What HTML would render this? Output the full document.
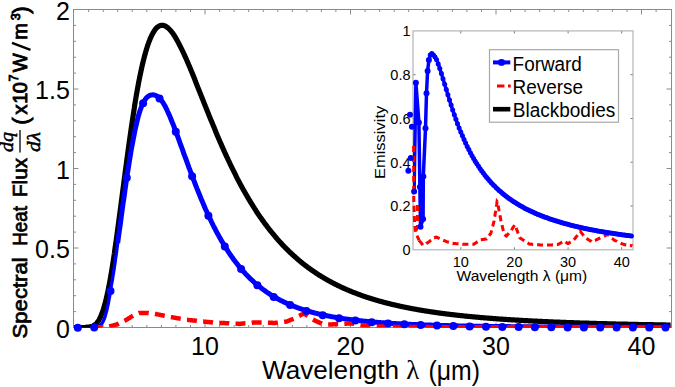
<!DOCTYPE html>
<html><head><meta charset="utf-8"><style>
html,body{margin:0;padding:0;background:#fff;}
body{width:675px;height:387px;position:relative;overflow:hidden;font-family:"Liberation Sans",sans-serif;}
</style></head><body>
<svg width="675" height="387" viewBox="0 0 675 387" style="position:absolute;left:0;top:0">
<defs><clipPath id="cm"><rect x="73.5" y="9.5" width="598" height="318"/></clipPath><clipPath id="ci"><rect x="413" y="30.9" width="220" height="218.9"/></clipPath></defs>
<path d="M88.6 327.5v-2.5M88.6 9.5v2.5M103.2 327.5v-2.5M103.2 9.5v2.5M117.7 327.5v-2.5M117.7 9.5v2.5M132.2 327.5v-2.5M132.2 9.5v2.5M146.8 327.5v-2.5M146.8 9.5v2.5M161.4 327.5v-2.5M161.4 9.5v2.5M175.9 327.5v-2.5M175.9 9.5v2.5M190.5 327.5v-2.5M190.5 9.5v2.5M205.0 327.5v-5.0M205.0 9.5v5.0M219.6 327.5v-2.5M219.6 9.5v2.5M234.1 327.5v-2.5M234.1 9.5v2.5M248.7 327.5v-2.5M248.7 9.5v2.5M263.2 327.5v-2.5M263.2 9.5v2.5M277.8 327.5v-2.5M277.8 9.5v2.5M292.3 327.5v-2.5M292.3 9.5v2.5M306.9 327.5v-2.5M306.9 9.5v2.5M321.4 327.5v-2.5M321.4 9.5v2.5M335.9 327.5v-2.5M335.9 9.5v2.5M350.5 327.5v-5.0M350.5 9.5v5.0M365.1 327.5v-2.5M365.1 9.5v2.5M379.6 327.5v-2.5M379.6 9.5v2.5M394.2 327.5v-2.5M394.2 9.5v2.5M408.7 327.5v-2.5M408.7 9.5v2.5M423.2 327.5v-2.5M423.2 9.5v2.5M437.8 327.5v-2.5M437.8 9.5v2.5M452.4 327.5v-2.5M452.4 9.5v2.5M466.9 327.5v-2.5M466.9 9.5v2.5M481.5 327.5v-2.5M481.5 9.5v2.5M496.0 327.5v-5.0M496.0 9.5v5.0M510.6 327.5v-2.5M510.6 9.5v2.5M525.1 327.5v-2.5M525.1 9.5v2.5M539.7 327.5v-2.5M539.7 9.5v2.5M554.2 327.5v-2.5M554.2 9.5v2.5M568.8 327.5v-2.5M568.8 9.5v2.5M583.3 327.5v-2.5M583.3 9.5v2.5M597.9 327.5v-2.5M597.9 9.5v2.5M612.4 327.5v-2.5M612.4 9.5v2.5M627.0 327.5v-2.5M627.0 9.5v2.5M641.5 327.5v-5.0M641.5 9.5v5.0M656.1 327.5v-2.5M656.1 9.5v2.5M73.5 311.6h2.5M671.5 311.6h-2.5M73.5 295.7h2.5M671.5 295.7h-2.5M73.5 279.8h2.5M671.5 279.8h-2.5M73.5 263.9h2.5M671.5 263.9h-2.5M73.5 248.0h5.0M671.5 248.0h-5.0M73.5 232.1h2.5M671.5 232.1h-2.5M73.5 216.2h2.5M671.5 216.2h-2.5M73.5 200.3h2.5M671.5 200.3h-2.5M73.5 184.4h2.5M671.5 184.4h-2.5M73.5 168.5h5.0M671.5 168.5h-5.0M73.5 152.6h2.5M671.5 152.6h-2.5M73.5 136.7h2.5M671.5 136.7h-2.5M73.5 120.8h2.5M671.5 120.8h-2.5M73.5 104.9h2.5M671.5 104.9h-2.5M73.5 89.0h5.0M671.5 89.0h-5.0M73.5 73.1h2.5M671.5 73.1h-2.5M73.5 57.2h2.5M671.5 57.2h-2.5M73.5 41.3h2.5M671.5 41.3h-2.5M73.5 25.4h2.5M671.5 25.4h-2.5" stroke="#8a8a8a" stroke-width="1" fill="none"/>
<rect x="73.5" y="9.5" width="598.0" height="318.0" fill="none" stroke="#8a8a8a" stroke-width="1"/>
<text x="69.8" y="337.7" font-family="Liberation Sans, sans-serif" font-size="25" text-anchor="end">0</text>
<text x="69.8" y="258.2" font-family="Liberation Sans, sans-serif" font-size="25" text-anchor="end">0.5</text>
<text x="69.8" y="178.7" font-family="Liberation Sans, sans-serif" font-size="25" text-anchor="end">1</text>
<text x="69.8" y="99.2" font-family="Liberation Sans, sans-serif" font-size="25" text-anchor="end">1.5</text>
<text x="69.8" y="19.7" font-family="Liberation Sans, sans-serif" font-size="25" text-anchor="end">2</text>
<text x="205.0" y="355" font-family="Liberation Sans, sans-serif" font-size="25" text-anchor="middle">10</text>
<text x="350.5" y="355" font-family="Liberation Sans, sans-serif" font-size="25" text-anchor="middle">20</text>
<text x="496.0" y="355" font-family="Liberation Sans, sans-serif" font-size="25" text-anchor="middle">30</text>
<text x="641.5" y="355" font-family="Liberation Sans, sans-serif" font-size="25" text-anchor="middle">40</text>
<g clip-path="url(#cm)">
<path d="M74.0 327.5L74.5 327.5L75.0 327.5L75.5 327.5L76.0 327.5L76.5 327.5L77.0 327.5L77.5 327.5L78.0 327.5L78.5 327.5L79.0 327.5L79.5 327.5L80.0 327.5L80.5 327.5L81.0 327.5L81.5 327.5L82.0 327.5L82.5 327.5L83.0 327.5L83.5 327.5L84.0 327.5L84.5 327.5L85.0 327.5L85.5 327.5L86.0 327.4L86.5 327.4L87.0 327.4L87.5 327.4L88.0 327.3L88.5 327.3L89.0 327.2L89.5 327.2L90.0 327.1L90.5 327.0L91.0 326.9L91.5 326.7L92.0 326.6L92.5 326.4L93.0 326.2L93.5 325.9L94.0 325.6L94.4 325.3L94.9 324.9L95.4 324.5L95.9 324.1L96.4 323.5L96.9 323.0L97.4 322.3L97.9 321.6L98.4 320.9L98.9 320.1L99.4 319.2L99.9 318.2L100.4 317.2L100.9 316.0L101.4 314.8L101.9 313.6L102.4 312.2L102.9 310.7L103.4 309.2L103.9 307.5L104.4 305.8L104.9 304.0L105.4 302.1L105.9 300.1L106.4 298.0L106.9 295.9L107.4 293.6L107.9 291.2L108.4 288.8L108.9 286.3L109.4 283.7L109.9 281.0L110.4 278.2L110.9 275.3L111.4 272.4L111.9 269.4L112.4 266.3L112.9 263.2L113.4 260.0L113.9 256.7L114.4 253.3L114.8 249.9L115.3 246.5L115.8 243.0L116.3 239.5L116.8 235.9L117.3 232.2L117.8 228.6L118.3 224.9L118.8 221.1L119.3 217.4L119.8 213.6L120.3 209.8L120.8 206.0L121.3 202.2L121.8 198.3L122.3 194.5L122.8 190.7L123.3 186.8L123.8 183.0L124.3 179.2L124.8 175.3L125.3 171.5L125.8 167.7L126.3 164.0L126.8 160.2L127.3 156.5L127.8 152.8L128.3 149.1L128.8 145.5L129.3 141.9L129.8 138.3L130.3 134.8L130.8 131.3L131.3 127.9L131.8 124.5L132.3 121.1L132.8 117.8L133.3 114.6L133.8 111.4L134.3 108.2L134.7 105.1L135.2 102.1L135.7 99.1L136.2 96.1L136.7 93.3L137.2 90.4L137.7 87.7L138.2 85.0L138.7 82.3L139.2 79.8L139.7 77.2L140.2 74.8L140.7 72.4L141.2 70.1L141.7 67.8L142.2 65.6L142.7 63.4L143.2 61.4L143.7 59.3L144.2 57.4L144.7 55.5L145.2 53.7L145.7 51.9L146.2 50.2L146.7 48.5L147.2 47.0L147.7 45.4L148.2 44.0L148.7 42.6L149.2 41.2L149.7 40.0L150.2 38.7L150.7 37.6L151.2 36.5L151.7 35.4L152.2 34.4L152.7 33.5L153.2 32.6L153.7 31.8L154.2 31.0L154.7 30.3L155.1 29.6L155.6 29.0L156.1 28.4L156.6 27.9L157.1 27.4L157.6 27.0L158.1 26.7L158.6 26.3L159.1 26.1L159.6 25.8L160.1 25.6L160.6 25.5L161.1 25.4L161.6 25.3L162.1 25.3L162.6 25.3L163.1 25.4L163.6 25.5L164.1 25.6L164.6 25.8L165.1 26.0L165.6 26.3L166.1 26.6L166.6 26.9L167.1 27.2L167.6 27.6L168.1 28.0L168.6 28.5L169.1 29.0L169.6 29.5L170.1 30.0L170.6 30.6L171.1 31.2L171.6 31.8L172.1 32.4L172.6 33.1L173.1 33.8L173.6 34.5L174.1 35.3L174.6 36.0L175.1 36.8L175.5 37.6L176.0 38.5L176.5 39.3L177.0 40.2L177.5 41.1L178.0 42.0L178.5 42.9L179.0 43.8L179.5 44.8L180.0 45.8L180.5 46.8L181.0 47.8L181.5 48.8L182.0 49.8L182.5 50.9L183.0 51.9L183.5 53.0L184.0 54.1L184.5 55.2L185.0 56.3L185.5 57.4L186.0 58.5L186.5 59.6L187.0 60.8L187.5 61.9L188.0 63.1L188.5 64.3L189.0 65.4L189.5 66.6L190.0 67.8L190.5 69.0L191.0 70.2L191.5 71.4L192.0 72.6L192.5 73.8L193.0 75.1L193.5 76.3L194.0 77.5L194.5 78.7L195.0 80.0L195.4 81.2L195.9 82.5L196.4 83.7L196.9 85.0L197.4 86.2L197.9 87.5L198.4 88.7L198.9 90.0L199.4 91.2L199.9 92.5L200.4 93.7L200.9 95.0L201.4 96.2L201.9 97.5L202.4 98.8L202.9 100.0L203.4 101.3L203.9 102.5L204.4 103.8L204.9 105.0L205.4 106.3L205.9 107.5L206.4 108.8L206.9 110.0L207.4 111.3L207.9 112.5L208.4 113.7L208.9 115.0L209.4 116.2L209.9 117.4L210.4 118.7L210.9 119.9L211.4 121.1L211.9 122.3L212.4 123.5L212.9 124.7L213.4 125.9L213.9 127.1L214.4 128.3L214.9 129.5L215.4 130.7L215.8 131.9L216.3 133.1L216.8 134.3L217.3 135.5L217.8 136.6L218.3 137.8L218.8 138.9L219.3 140.1L219.8 141.3L220.3 142.4L220.8 143.5L221.3 144.7L221.8 145.8L222.3 146.9L222.8 148.1L223.3 149.2L223.8 150.3L224.3 151.4L224.8 152.5L225.3 153.6L225.8 154.7L226.3 155.8L226.8 156.9L227.3 157.9L227.8 159.0L228.3 160.1L228.8 161.1L229.3 162.2L229.8 163.2L230.3 164.3L230.8 165.3L231.3 166.3L231.8 167.4L232.3 168.4L232.8 169.4L233.3 170.4L233.8 171.4L234.3 172.4L234.8 173.4L235.3 174.4L235.8 175.4L236.2 176.4L236.7 177.3L237.2 178.3L237.7 179.3L238.2 180.2L238.7 181.2L239.2 182.1L239.7 183.1L240.2 184.0L240.7 184.9L241.2 185.8L241.7 186.8L242.2 187.7L242.7 188.6L243.2 189.5L243.7 190.4L244.2 191.2L244.7 192.1L245.2 193.0L245.7 193.9L246.2 194.7L246.7 195.6L247.2 196.5L247.7 197.3L248.2 198.2L248.7 199.0L249.2 199.8L249.7 200.7L250.2 201.5L250.7 202.3L251.2 203.1L251.7 203.9L252.2 204.7L252.7 205.5L253.2 206.3L253.7 207.1L254.2 207.9L254.7 208.7L255.2 209.4L255.7 210.2L256.1 211.0L256.6 211.7L257.1 212.5L257.6 213.2L258.1 214.0L258.6 214.7L259.1 215.4L259.6 216.2L260.1 216.9L260.6 217.6L261.1 218.3L261.6 219.0L262.1 219.7L262.6 220.4L263.1 221.1L263.6 221.8L264.1 222.5L264.6 223.2L265.1 223.9L265.6 224.5L266.1 225.2L266.6 225.8L267.1 226.5L267.6 227.2L268.1 227.8L268.6 228.4L269.1 229.1L269.6 229.7L270.1 230.4L270.6 231.0L271.1 231.6L271.6 232.2L272.1 232.8L272.6 233.4L273.1 234.0L273.6 234.6L274.1 235.2L274.6 235.8L275.1 236.4L275.6 237.0L276.1 237.6L276.5 238.2L277.0 238.7L277.5 239.3L278.0 239.9L278.5 240.4L279.0 241.0L279.5 241.5L280.0 242.1L280.5 242.6L281.0 243.2L281.5 243.7L282.0 244.2L282.5 244.8L283.0 245.3L283.5 245.8L284.0 246.3L284.5 246.8L285.0 247.4L285.5 247.9L286.0 248.4L286.5 248.9L287.0 249.4L287.5 249.9L288.0 250.4L288.5 250.8L289.0 251.3L289.5 251.8L290.0 252.3L290.5 252.8L291.0 253.2L291.5 253.7L292.0 254.2L292.5 254.6L293.0 255.1L293.5 255.5L294.0 256.0L294.5 256.4L295.0 256.9L295.5 257.3L296.0 257.7L296.5 258.2L296.9 258.6L297.4 259.0L297.9 259.5L298.4 259.9L298.9 260.3L299.4 260.7L299.9 261.1L300.4 261.5L300.9 262.0L301.4 262.4L301.9 262.8L302.4 263.2L302.9 263.6L303.4 264.0L303.9 264.3L304.4 264.7L304.9 265.1L305.4 265.5L305.9 265.9L306.4 266.3L306.9 266.6L307.4 267.0L307.9 267.4L308.4 267.7L308.9 268.1L309.4 268.5L309.9 268.8L310.4 269.2L310.9 269.5L311.4 269.9L311.9 270.2L312.4 270.6L312.9 270.9L313.4 271.3L313.9 271.6L314.4 272.0L314.9 272.3L315.4 272.6L315.9 273.0L316.4 273.3L316.8 273.6L317.3 273.9L317.8 274.3L318.3 274.6L318.8 274.9L319.3 275.2L319.8 275.5L320.3 275.8L320.8 276.1L321.3 276.4L321.8 276.7L322.3 277.0L322.8 277.3L323.3 277.6L323.8 277.9L324.3 278.2L324.8 278.5L325.3 278.8L325.8 279.1L326.3 279.4L326.8 279.7L327.3 280.0L327.8 280.2L328.3 280.5L328.8 280.8L329.3 281.1L329.8 281.3L330.3 281.6L330.8 281.9L331.3 282.1L331.8 282.4L332.3 282.7L332.8 282.9L333.3 283.2L333.8 283.5L334.3 283.7L334.8 284.0L335.3 284.2L335.8 284.5L336.3 284.7L336.8 285.0L337.2 285.2L337.7 285.5L338.2 285.7L338.7 285.9L339.2 286.2L339.7 286.4L340.2 286.6L340.7 286.9L341.2 287.1L341.7 287.3L342.2 287.6L342.7 287.8L343.2 288.0L343.7 288.3L344.2 288.5L344.7 288.7L345.2 288.9L345.7 289.1L346.2 289.4L346.7 289.6L347.2 289.8L347.7 290.0L348.2 290.2L348.7 290.4L349.2 290.6L349.7 290.8L350.2 291.0L350.7 291.3L351.2 291.5L351.7 291.7L352.2 291.9L352.7 292.1L353.2 292.3L353.7 292.5L354.2 292.7L354.7 292.8L355.2 293.0L355.7 293.2L356.2 293.4L356.7 293.6L357.2 293.8L357.6 294.0L358.1 294.2L358.6 294.4L359.1 294.5L359.6 294.7L360.1 294.9L360.6 295.1L361.1 295.3L361.6 295.4L362.1 295.6L362.6 295.8L363.1 296.0L363.6 296.1L364.1 296.3L364.6 296.5L365.1 296.6L365.6 296.8L366.1 297.0L366.6 297.1L367.1 297.3L367.6 297.5L368.1 297.6L368.6 297.8L369.1 298.0L369.6 298.1L370.1 298.3L370.6 298.4L371.1 298.6L371.6 298.7L372.1 298.9L372.6 299.1L373.1 299.2L373.6 299.4L374.1 299.5L374.6 299.7L375.1 299.8L375.6 300.0L376.1 300.1L376.6 300.2L377.1 300.4L377.5 300.5L378.0 300.7L378.5 300.8L379.0 301.0L379.5 301.1L380.0 301.2L380.5 301.4L381.0 301.5L381.5 301.7L382.0 301.8L382.5 301.9L383.0 302.1L383.5 302.2L384.0 302.3L384.5 302.5L385.0 302.6L385.5 302.7L386.0 302.9L386.5 303.0L387.0 303.1L387.5 303.2L388.0 303.4L388.5 303.5L389.0 303.6L389.5 303.7L390.0 303.9L390.5 304.0L391.0 304.1L391.5 304.2L392.0 304.3L392.5 304.5L393.0 304.6L393.5 304.7L394.0 304.8L394.5 304.9L395.0 305.0L395.5 305.2L396.0 305.3L396.5 305.4L397.0 305.5L397.5 305.6L397.9 305.7L398.4 305.8L398.9 305.9L399.4 306.1L399.9 306.2L400.4 306.3L400.9 306.4L401.4 306.5L401.9 306.6L402.4 306.7L402.9 306.8L403.4 306.9L403.9 307.0L404.4 307.1L404.9 307.2L405.4 307.3L405.9 307.4L406.4 307.5L406.9 307.6L407.4 307.7L407.9 307.8L408.4 307.9L408.9 308.0L409.4 308.1L409.9 308.2L410.4 308.3L410.9 308.4L411.4 308.5L411.9 308.6L412.4 308.7L412.9 308.8L413.4 308.9L413.9 309.0L414.4 309.0L414.9 309.1L415.4 309.2L415.9 309.3L416.4 309.4L416.9 309.5L417.4 309.6L417.8 309.7L418.3 309.8L418.8 309.8L419.3 309.9L419.8 310.0L420.3 310.1L420.8 310.2L421.3 310.3L421.8 310.4L422.3 310.4L422.8 310.5L423.3 310.6L423.8 310.7L424.3 310.8L424.8 310.8L425.3 310.9L425.8 311.0L426.3 311.1L426.8 311.2L427.3 311.2L427.8 311.3L428.3 311.4L428.8 311.5L429.3 311.5L429.8 311.6L430.3 311.7L430.8 311.8L431.3 311.8L431.8 311.9L432.3 312.0L432.8 312.1L433.3 312.1L433.8 312.2L434.3 312.3L434.8 312.4L435.3 312.4L435.8 312.5L436.3 312.6L436.8 312.6L437.3 312.7L437.8 312.8L438.2 312.9L438.7 312.9L439.2 313.0L439.7 313.1L440.2 313.1L440.7 313.2L441.2 313.3L441.7 313.3L442.2 313.4L442.7 313.5L443.2 313.5L443.7 313.6L444.2 313.6L444.7 313.7L445.2 313.8L445.7 313.8L446.2 313.9L446.7 314.0L447.2 314.0L447.7 314.1L448.2 314.2L448.7 314.2L449.2 314.3L449.7 314.3L450.2 314.4L450.7 314.5L451.2 314.5L451.7 314.6L452.2 314.6L452.7 314.7L453.2 314.7L453.7 314.8L454.2 314.9L454.7 314.9L455.2 315.0L455.7 315.0L456.2 315.1L456.7 315.1L457.2 315.2L457.7 315.3L458.2 315.3L458.6 315.4L459.1 315.4L459.6 315.5L460.1 315.5L460.6 315.6L461.1 315.6L461.6 315.7L462.1 315.7L462.6 315.8L463.1 315.8L463.6 315.9L464.1 316.0L464.6 316.0L465.1 316.1L465.6 316.1L466.1 316.2L466.6 316.2L467.1 316.3L467.6 316.3L468.1 316.4L468.6 316.4L469.1 316.5L469.6 316.5L470.1 316.5L470.6 316.6L471.1 316.6L471.6 316.7L472.1 316.7L472.6 316.8L473.1 316.8L473.6 316.9L474.1 316.9L474.6 317.0L475.1 317.0L475.6 317.1L476.1 317.1L476.6 317.2L477.1 317.2L477.6 317.2L478.1 317.3L478.5 317.3L479.0 317.4L479.5 317.4L480.0 317.5L480.5 317.5L481.0 317.6L481.5 317.6L482.0 317.6L482.5 317.7L483.0 317.7L483.5 317.8L484.0 317.8L484.5 317.8L485.0 317.9L485.5 317.9L486.0 318.0L486.5 318.0L487.0 318.0L487.5 318.1L488.0 318.1L488.5 318.2L489.0 318.2L489.5 318.2L490.0 318.3L490.5 318.3L491.0 318.4L491.5 318.4L492.0 318.4L492.5 318.5L493.0 318.5L493.5 318.6L494.0 318.6L494.5 318.6L495.0 318.7L495.5 318.7L496.0 318.7L496.5 318.8L497.0 318.8L497.5 318.9L498.0 318.9L498.5 318.9L498.9 319.0L499.4 319.0L499.9 319.0L500.4 319.1L500.9 319.1L501.4 319.1L501.9 319.2L502.4 319.2L502.9 319.2L503.4 319.3L503.9 319.3L504.4 319.3L504.9 319.4L505.4 319.4L505.9 319.4L506.4 319.5L506.9 319.5L507.4 319.5L507.9 319.6L508.4 319.6L508.9 319.6L509.4 319.7L509.9 319.7L510.4 319.7L510.9 319.8L511.4 319.8L511.9 319.8L512.4 319.9L512.9 319.9L513.4 319.9L513.9 319.9L514.4 320.0L514.9 320.0L515.4 320.0L515.9 320.1L516.4 320.1L516.9 320.1L517.4 320.2L517.9 320.2L518.4 320.2L518.9 320.2L519.3 320.3L519.8 320.3L520.3 320.3L520.8 320.4L521.3 320.4L521.8 320.4L522.3 320.4L522.8 320.5L523.3 320.5L523.8 320.5L524.3 320.6L524.8 320.6L525.3 320.6L525.8 320.6L526.3 320.7L526.8 320.7L527.3 320.7L527.8 320.7L528.3 320.8L528.8 320.8L529.3 320.8L529.8 320.9L530.3 320.9L530.8 320.9L531.3 320.9L531.8 321.0L532.3 321.0L532.8 321.0L533.3 321.0L533.8 321.1L534.3 321.1L534.8 321.1L535.3 321.1L535.8 321.2L536.3 321.2L536.8 321.2L537.3 321.2L537.8 321.3L538.3 321.3L538.8 321.3L539.2 321.3L539.7 321.4L540.2 321.4L540.7 321.4L541.2 321.4L541.7 321.4L542.2 321.5L542.7 321.5L543.2 321.5L543.7 321.5L544.2 321.6L544.7 321.6L545.2 321.6L545.7 321.6L546.2 321.7L546.7 321.7L547.2 321.7L547.7 321.7L548.2 321.7L548.7 321.8L549.2 321.8L549.7 321.8L550.2 321.8L550.7 321.8L551.2 321.9L551.7 321.9L552.2 321.9L552.7 321.9L553.2 322.0L553.7 322.0L554.2 322.0L554.7 322.0L555.2 322.0L555.7 322.1L556.2 322.1L556.7 322.1L557.2 322.1L557.7 322.1L558.2 322.2L558.7 322.2L559.2 322.2L559.6 322.2L560.1 322.2L560.6 322.3L561.1 322.3L561.6 322.3L562.1 322.3L562.6 322.3L563.1 322.4L563.6 322.4L564.1 322.4L564.6 322.4L565.1 322.4L565.6 322.4L566.1 322.5L566.6 322.5L567.1 322.5L567.6 322.5L568.1 322.5L568.6 322.6L569.1 322.6L569.6 322.6L570.1 322.6L570.6 322.6L571.1 322.6L571.6 322.7L572.1 322.7L572.6 322.7L573.1 322.7L573.6 322.7L574.1 322.8L574.6 322.8L575.1 322.8L575.6 322.8L576.1 322.8L576.6 322.8L577.1 322.9L577.6 322.9L578.1 322.9L578.6 322.9L579.1 322.9L579.6 322.9L580.0 323.0L580.5 323.0L581.0 323.0L581.5 323.0L582.0 323.0L582.5 323.0L583.0 323.1L583.5 323.1L584.0 323.1L584.5 323.1L585.0 323.1L585.5 323.1L586.0 323.1L586.5 323.2L587.0 323.2L587.5 323.2L588.0 323.2L588.5 323.2L589.0 323.2L589.5 323.3L590.0 323.3L590.5 323.3L591.0 323.3L591.5 323.3L592.0 323.3L592.5 323.3L593.0 323.4L593.5 323.4L594.0 323.4L594.5 323.4L595.0 323.4L595.5 323.4L596.0 323.4L596.5 323.5L597.0 323.5L597.5 323.5L598.0 323.5L598.5 323.5L599.0 323.5L599.5 323.5L599.9 323.6L600.4 323.6L600.9 323.6L601.4 323.6L601.9 323.6L602.4 323.6L602.9 323.6L603.4 323.7L603.9 323.7L604.4 323.7L604.9 323.7L605.4 323.7L605.9 323.7L606.4 323.7L606.9 323.7L607.4 323.8L607.9 323.8L608.4 323.8L608.9 323.8L609.4 323.8L609.9 323.8L610.4 323.8L610.9 323.8L611.4 323.9L611.9 323.9L612.4 323.9L612.9 323.9L613.4 323.9L613.9 323.9L614.4 323.9L614.9 323.9L615.4 324.0L615.9 324.0L616.4 324.0L616.9 324.0L617.4 324.0L617.9 324.0L618.4 324.0L618.9 324.0L619.4 324.0L619.9 324.1L620.3 324.1L620.8 324.1L621.3 324.1L621.8 324.1L622.3 324.1L622.8 324.1L623.3 324.1L623.8 324.2L624.3 324.2L624.8 324.2L625.3 324.2L625.8 324.2L626.3 324.2L626.8 324.2L627.3 324.2L627.8 324.2L628.3 324.3L628.8 324.3L629.3 324.3L629.8 324.3L630.3 324.3L630.8 324.3L631.3 324.3L631.8 324.3L632.3 324.3L632.8 324.3L633.3 324.4L633.8 324.4L634.3 324.4L634.8 324.4L635.3 324.4L635.8 324.4L636.3 324.4L636.8 324.4L637.3 324.4L637.8 324.4L638.3 324.5L638.8 324.5L639.3 324.5L639.8 324.5L640.3 324.5L640.7 324.5L641.2 324.5L641.7 324.5L642.2 324.5L642.7 324.5L643.2 324.6L643.7 324.6L644.2 324.6L644.7 324.6L645.2 324.6L645.7 324.6L646.2 324.6L646.7 324.6L647.2 324.6L647.7 324.6L648.2 324.7L648.7 324.7L649.2 324.7L649.7 324.7L650.2 324.7L650.7 324.7L651.2 324.7L651.7 324.7L652.2 324.7L652.7 324.7L653.2 324.7L653.7 324.8L654.2 324.8L654.7 324.8L655.2 324.8L655.7 324.8L656.2 324.8L656.7 324.8L657.2 324.8L657.7 324.8L658.2 324.8L658.7 324.8L659.2 324.8L659.7 324.9L660.2 324.9L660.6 324.9L661.1 324.9L661.6 324.9L662.1 324.9L662.6 324.9L663.1 324.9L663.6 324.9L664.1 324.9L664.6 324.9L665.1 324.9L665.6 325.0L666.1 325.0L666.6 325.0L667.1 325.0L667.6 325.0L668.1 325.0L668.6 325.0L669.1 325.0L669.6 325.0L670.1 325.0L670.6 325.0" stroke="#000" stroke-width="5.2" fill="none" stroke-linejoin="round"/>
<path d="M117.7 242.9L118.3 238.3L118.9 234.0L119.5 229.5L120.2 225.1L120.8 220.5L121.4 215.9L122.0 211.3L122.6 206.9L123.2 202.5L123.9 198.2L124.5 193.8L125.1 189.5L125.7 185.1L126.3 180.8L126.9 176.6L127.5 172.7L128.2 168.8L128.8 164.9L129.4 161.2L130.0 157.4L130.6 153.8L131.2 150.2L131.8 146.7L132.5 143.3L133.1 140.0L133.7 136.9L134.3 133.8L134.9 130.8L135.5 127.9L136.2 125.2L136.8 122.5L137.4 119.9L138.0 117.5L138.6 115.2L139.2 113.2L139.8 111.2L140.5 109.4L141.1 107.7L141.7 106.1L142.3 104.7L142.9 103.4L143.5 102.2L144.1 101.1L144.8 100.1L145.4 99.2L146.0 98.4L146.6 97.7L147.2 97.1L147.8 96.6L148.5 96.2L149.1 95.8L149.7 95.5L150.3 95.2L150.9 95.1L151.5 94.9L152.1 94.9L152.8 94.8L153.4 94.9L154.0 95.0L154.6 95.1L155.2 95.3L155.8 95.5L156.4 95.8L157.1 96.2L157.7 96.6L158.3 97.1L158.9 97.6L159.5 98.2L160.1 98.8L160.8 99.6L161.4 100.3L162.0 101.2L162.6 102.1L163.2 103.0L163.8 104.0L164.4 105.1L165.1 106.2L165.7 107.4L166.3 108.6L166.9 109.8L167.5 111.2L168.1 112.5L168.7 113.9L169.4 115.3L170.0 116.7L170.6 118.2L171.2 119.7L171.8 121.2L172.4 122.7L173.1 124.3L173.7 125.9L174.3 127.5L174.9 129.1L175.5 130.7L176.1 132.4L176.7 134.0L177.4 135.7L178.0 137.4L178.6 139.0L179.2 140.7L179.8 142.4L180.4 144.1L181.0 145.8L181.7 147.5L182.3 149.2L182.9 150.9L183.5 152.6L184.1 154.3L184.7 156.0L185.4 157.7L186.0 159.4L186.6 161.0L187.2 162.7L187.8 164.4L188.4 166.1L189.0 167.7L189.7 169.4L190.3 171.1L190.9 172.7L191.5 174.3L192.1 176.0L192.7 177.6L193.3 179.2L194.0 180.8L194.6 182.4L195.2 184.0L195.8 185.6L196.4 187.1L197.0 188.7L197.7 190.2L198.3 191.8L198.9 193.3L199.5 194.8L200.1 196.3L200.7 197.8L201.3 199.3L202.0 200.7L202.6 202.2L203.2 203.6L203.8 205.1L204.4 206.5L205.0 207.9L205.6 209.3L206.3 210.7L206.9 212.0L207.5 213.4L208.1 214.7L208.7 216.0L209.3 217.4L210.0 218.7L210.6 219.9L211.2 221.2L211.8 222.5L212.4 223.7L213.0 225.0L213.6 226.2L214.3 227.4L214.9 228.6L215.5 229.8L216.1 231.0L216.7 232.1L217.3 233.3L217.9 234.4L218.6 235.5L219.2 236.6L219.8 237.7L220.4 238.8L221.0 239.9L221.6 241.0L222.3 242.0L222.9 243.0L223.5 244.1L224.1 245.1L224.7 246.1L225.3 247.1L225.9 248.1L226.6 249.0L227.2 250.0L227.8 250.9L228.4 251.9L229.0 252.8L229.6 253.7L230.2 254.6L230.9 255.5L231.5 256.4L232.1 257.2L232.7 258.1L233.3 258.9L233.9 259.8L234.6 260.6L235.2 261.4L235.8 262.2L236.4 263.0L237.0 263.8L237.6 264.6L238.2 265.4L238.9 266.1L239.5 266.9L240.1 267.6L240.7 268.3L241.3 269.1L241.9 269.8L242.5 270.5L243.2 271.2L243.8 271.9L244.4 272.5L245.0 273.2L245.6 273.9L246.2 274.5L246.9 275.2L247.5 275.8L248.1 276.4L248.7 277.0L249.3 277.7L249.9 278.3L250.5 278.9L251.2 279.4L251.8 280.0L252.4 280.6L253.0 281.2L253.6 281.7L254.2 282.3L254.8 282.8L255.5 283.4L256.1 283.9L256.7 284.4L257.3 284.9L257.9 285.4L258.5 285.9L259.2 286.4L259.8 286.9L260.4 287.4L261.0 287.9L261.6 288.4L262.2 288.8L262.8 289.3L263.5 289.8L264.1 290.2L264.7 290.7L265.3 291.1L265.9 291.5L266.5 292.0L267.1 292.4L267.8 292.8L268.4 293.2L269.0 293.6L269.6 294.0L270.2 294.4L270.8 294.8L271.5 295.2L272.1 295.6L272.7 295.9L273.3 296.3L273.9 296.7L274.5 297.0L275.1 297.4L275.8 297.7L276.4 298.1L277.0 298.4L277.6 298.8L278.2 299.1L278.8 299.4L279.4 299.8L280.1 300.1L280.7 300.4L281.3 300.7L281.9 301.0L282.5 301.3L283.1 301.6L283.8 301.9L284.4 302.2L285.0 302.5L285.6 302.8L286.2 303.1L286.8 303.4L287.4 303.6L288.1 303.9L288.7 304.2L289.3 304.4L289.9 304.7L290.5 305.0L291.1 305.2L291.7 305.5L292.4 305.7L293.0 306.0L293.6 306.2L294.2 306.4L294.8 306.7L295.4 306.9L296.1 307.2L296.7 307.4L297.3 307.6L297.9 307.8L298.5 308.0L299.1 308.3L299.7 308.5L300.4 308.7L301.0 308.9L301.6 309.1L302.2 309.3L302.8 309.5L303.4 309.7L304.1 309.9L304.7 310.1L305.3 310.3L305.9 310.5L306.5 310.7L307.1 310.9L307.7 311.0L308.4 311.2L309.0 311.4L309.6 311.6L310.2 311.7L310.8 311.9L311.4 312.1L312.0 312.3L312.7 312.4L313.3 312.6L313.9 312.7L314.5 312.9L315.1 313.1L315.7 313.2L316.4 313.4L317.0 313.5L317.6 313.7L318.2 313.8L318.8 314.0L319.4 314.1L320.0 314.3L320.7 314.4L321.3 314.5L321.9 314.7L322.5 314.8L323.1 315.0L323.7 315.1L324.3 315.2L325.0 315.3L325.6 315.5L326.2 315.6L326.8 315.7L327.4 315.8L328.0 316.0L328.7 316.1L329.3 316.2L329.9 316.3L330.5 316.4L331.1 316.6L331.7 316.7L332.3 316.8L333.0 316.9L333.6 317.0L334.2 317.1L334.8 317.2L335.4 317.3L336.0 317.4L336.6 317.5L337.3 317.6L337.9 317.7L338.5 317.8L339.1 317.9L339.7 318.0L340.3 318.1L341.0 318.2L341.6 318.3L342.2 318.4L342.8 318.5L343.4 318.6L344.0 318.7L344.6 318.8L345.3 318.9L345.9 319.0L346.5 319.0L347.1 319.1L347.7 319.2L348.3 319.3L348.9 319.4L349.6 319.5L350.2 319.5L350.8 319.6L351.4 319.7L352.0 319.8L352.6 319.9L353.3 319.9L353.9 320.0L354.5 320.1L355.1 320.2L355.7 320.2L356.3 320.3L356.9 320.4L357.6 320.4L358.2 320.5L358.8 320.6L359.4 320.6L360.0 320.7L360.6 320.8L361.2 320.8L361.9 320.9L362.5 321.0L363.1 321.0L363.7 321.1L364.3 321.2L364.9 321.2L365.6 321.3L366.2 321.3L366.8 321.4L367.4 321.5L368.0 321.5L368.6 321.6L369.2 321.6L369.9 321.7L370.5 321.7L371.1 321.8L371.7 321.9L372.3 321.9L372.9 322.0L373.5 322.0L374.2 322.1L374.8 322.1L375.4 322.2L376.0 322.2L376.6 322.3L377.2 322.3L377.9 322.4L378.5 322.4L379.1 322.5L379.7 322.5L380.3 322.6L380.9 322.6L381.5 322.7L382.2 322.7L382.8 322.7L383.4 322.8L384.0 322.8L384.6 322.9L385.2 322.9L385.8 323.0L386.5 323.0L387.1 323.0L387.7 323.1L388.3 323.1L388.9 323.2L389.5 323.2L390.2 323.2L390.8 323.3L391.4 323.3L392.0 323.4L392.6 323.4L393.2 323.4L393.8 323.5L394.5 323.5L395.1 323.5L395.7 323.6L396.3 323.6L396.9 323.7L397.5 323.7L398.1 323.7L398.8 323.8L399.4 323.8L400.0 323.8L400.6 323.9L401.2 323.9L401.8 323.9L402.5 324.0L403.1 324.0L403.7 324.0L404.3 324.0L404.9 324.1L405.5 324.1L406.1 324.1L406.8 324.2L407.4 324.2L408.0 324.2L408.6 324.3L409.2 324.3L409.8 324.3L410.4 324.3L411.1 324.4L411.7 324.4L412.3 324.4L412.9 324.5L413.5 324.5L414.1 324.5L414.8 324.5L415.4 324.6L416.0 324.6L416.6 324.6L417.2 324.6L417.8 324.7L418.4 324.7L419.1 324.7L419.7 324.7L420.3 324.8L420.9 324.8L421.5 324.8L422.1 324.8L422.7 324.8L423.4 324.9L424.0 324.9L424.6 324.9L425.2 324.9L425.8 325.0L426.4 325.0L427.1 325.0L427.7 325.0L428.3 325.0L428.9 325.1L429.5 325.1L430.1 325.1L430.7 325.1L431.4 325.1L432.0 325.2L432.6 325.2L433.2 325.2L433.8 325.2L434.4 325.2L435.0 325.3L435.7 325.3L436.3 325.3L436.9 325.3L437.5 325.3L438.1 325.4L438.7 325.4L439.4 325.4L440.0 325.4L440.6 325.4L441.2 325.4L441.8 325.5L442.4 325.5L443.0 325.5L443.7 325.5L444.3 325.5L444.9 325.5L445.5 325.6L446.1 325.6L446.7 325.6L447.3 325.6L448.0 325.6L448.6 325.6L449.2 325.7L449.8 325.7L450.4 325.7L451.0 325.7L451.7 325.7L452.3 325.7L452.9 325.7L453.5 325.8L454.1 325.8L454.7 325.8L455.3 325.8L456.0 325.8L456.6 325.8L457.2 325.8L457.8 325.9L458.4 325.9L459.0 325.9L459.6 325.9L460.3 325.9L460.9 325.9L461.5 325.9L462.1 325.9L462.7 326.0L463.3 326.0L464.0 326.0L464.6 326.0L465.2 326.0L465.8 326.0L466.4 326.0L467.0 326.0L467.6 326.0L468.3 326.1L468.9 326.1L469.5 326.1L470.1 326.1L470.7 326.1L471.3 326.1L471.9 326.1L472.6 326.1L473.2 326.1L473.8 326.2L474.4 326.2L475.0 326.2L475.6 326.2L476.3 326.2L476.9 326.2L477.5 326.2L478.1 326.2L478.7 326.2L479.3 326.3L479.9 326.3L480.6 326.3L481.2 326.3L481.8 326.3L482.4 326.3L483.0 326.3L483.6 326.3L484.2 326.3L484.9 326.3L485.5 326.3L486.1 326.4L486.7 326.4L487.3 326.4L487.9 326.4L488.6 326.4L489.2 326.4L489.8 326.4L490.4 326.4L491.0 326.4L491.6 326.4L492.2 326.4L492.9 326.4L493.5 326.5L494.1 326.5L494.7 326.5L495.3 326.5L495.9 326.5L496.6 326.5L497.2 326.5L497.8 326.5L498.4 326.5L499.0 326.5L499.6 326.5L500.2 326.5L500.9 326.5L501.5 326.6L502.1 326.6L502.7 326.6L503.3 326.6L503.9 326.6L504.5 326.6L505.2 326.6L505.8 326.6L506.4 326.6L507.0 326.6L507.6 326.6L508.2 326.6L508.9 326.6L509.5 326.6L510.1 326.6L510.7 326.7L511.3 326.7L511.9 326.7L512.5 326.7L513.2 326.7L513.8 326.7L514.4 326.7L515.0 326.7L515.6 326.7L516.2 326.7L516.8 326.7L517.5 326.7L518.1 326.7L518.7 326.7L519.3 326.7L519.9 326.7L520.5 326.7L521.2 326.7L521.8 326.8L522.4 326.8L523.0 326.8L523.6 326.8L524.2 326.8L524.8 326.8L525.5 326.8L526.1 326.8L526.7 326.8L527.3 326.8L527.9 326.8L528.5 326.8L529.1 326.8L529.8 326.8L530.4 326.8L531.0 326.8L531.6 326.8L532.2 326.8L532.8 326.8L533.5 326.8L534.1 326.9L534.7 326.9L535.3 326.9L535.9 326.9L536.5 326.9L537.1 326.9L537.8 326.9L538.4 326.9L539.0 326.9L539.6 326.9L540.2 326.9L540.8 326.9L541.4 326.9L542.1 326.9L542.7 326.9L543.3 326.9L543.9 326.9L544.5 326.9L545.1 326.9L545.8 326.9L546.4 326.9L547.0 326.9L547.6 326.9L548.2 327.0L548.8 327.0L549.4 327.0L550.1 327.0L550.7 327.0L551.3 327.0L551.9 327.0L552.5 327.0L553.1 327.0L553.7 327.0L554.4 327.0L555.0 327.0L555.6 327.0L556.2 327.0L556.8 327.0L557.4 327.0L558.1 327.0L558.7 327.0L559.3 327.0L559.9 327.0L560.5 327.0L561.1 327.0L561.7 327.0L562.4 327.0L563.0 327.0L563.6 327.0L564.2 327.0L564.8 327.0L565.4 327.0L566.0 327.0L566.7 327.1L567.3 327.1L567.9 327.1L568.5 327.1L569.1 327.1L569.7 327.1L570.4 327.1L571.0 327.1L571.6 327.1L572.2 327.1L572.8 327.1L573.4 327.1L574.0 327.1L574.7 327.1L575.3 327.1L575.9 327.1L576.5 327.1L577.1 327.1L577.7 327.1L578.3 327.1L579.0 327.1L579.6 327.1L580.2 327.1L580.8 327.1L581.4 327.1L582.0 327.1L582.7 327.1L583.3 327.1L583.9 327.1L584.5 327.1L585.1 327.1L585.7 327.1L586.3 327.1L587.0 327.1L587.6 327.1L588.2 327.1L588.8 327.1L589.4 327.1L590.0 327.2L590.6 327.2L591.3 327.2L591.9 327.2L592.5 327.2L593.1 327.2L593.7 327.2L594.3 327.2L595.0 327.2L595.6 327.2L596.2 327.2L596.8 327.2L597.4 327.2L598.0 327.2L598.6 327.2L599.3 327.2L599.9 327.2L600.5 327.2L601.1 327.2L601.7 327.2L602.3 327.2L602.9 327.2L603.6 327.2L604.2 327.2L604.8 327.2L605.4 327.2L606.0 327.2L606.6 327.2L607.3 327.2L607.9 327.2L608.5 327.2L609.1 327.2L609.7 327.2L610.3 327.2L610.9 327.2L611.6 327.2L612.2 327.2L612.8 327.2L613.4 327.2L614.0 327.2L614.6 327.2L615.2 327.2L615.9 327.2L616.5 327.2L617.1 327.2L617.7 327.2L618.3 327.2L618.9 327.2L619.6 327.2L620.2 327.2L620.8 327.2L621.4 327.2L622.0 327.3L622.6 327.3L623.2 327.3L623.9 327.3L624.5 327.3L625.1 327.3L625.7 327.3L626.3 327.3L626.9 327.3L627.5 327.3L628.2 327.3L628.8 327.3L629.4 327.3L630.0 327.3L630.6 327.3L631.2 327.3L631.9 327.3L632.5 327.3L633.1 327.3L633.7 327.3L634.3 327.3L634.9 327.3L635.5 327.3L636.2 327.3L636.8 327.3L637.4 327.3L638.0 327.3L638.6 327.3L639.2 327.3L639.8 327.3L640.5 327.3L641.1 327.3L641.7 327.3L642.3 327.3L642.9 327.3L643.5 327.3L644.2 327.3L644.8 327.3L645.4 327.3L646.0 327.3L646.6 327.3L647.2 327.3L647.8 327.3L648.5 327.3L649.1 327.3L649.7 327.3L650.3 327.3L650.9 327.3L651.5 327.3L652.1 327.3L652.8 327.3L653.4 327.3L654.0 327.3L654.6 327.3L655.2 327.3L655.8 327.3L656.5 327.3L657.1 327.3L657.7 327.3L658.3 327.3L658.9 327.3L659.5 327.3L660.1 327.3L660.8 327.3L661.4 327.3L662.0 327.3L662.6 327.3L663.2 327.3L663.8 327.3L664.4 327.3L665.1 327.3L665.7 327.3L666.3 327.3L666.9 327.3L667.5 327.3L668.1 327.3L668.8 327.3L669.4 327.3L670.0 327.3L670.6 327.3" stroke="#0000ff" stroke-width="5" fill="none" stroke-linejoin="round"/>
<path d="M74.0 327.5L74.4 327.5L74.8 327.5L75.2 327.5L75.5 327.5L75.9 327.5L76.3 327.5L76.7 327.5L77.0 327.5L77.4 327.5L77.8 327.5L78.2 327.5L78.5 327.5L78.9 327.5L79.3 327.5L79.6 327.5L80.0 327.5L80.4 327.5L80.8 327.5L81.1 327.5L81.5 327.5L81.9 327.5L82.3 327.5L82.6 327.5L83.0 327.5L83.4 327.5L83.7 327.5L84.1 327.5L84.5 327.5L84.9 327.5L85.2 327.5L85.6 327.5L86.0 327.5L86.4 327.5L86.7 327.4L87.1 327.4L87.5 327.4L87.8 327.4L88.2 327.4L88.6 327.4L89.0 327.3L89.3 327.3L89.7 327.3L90.1 327.2L90.5 327.2L90.8 327.2L91.2 327.1L91.6 327.1L92.0 327.1L92.3 327.1L92.7 327.1L93.1 327.1L93.4 327.1L93.8 327.1L94.2 327.1L94.6 327.2L94.9 327.2L95.3 327.2L95.7 327.2L96.1 327.1L96.4 327.0L96.8 327.0L97.2 326.9L97.5 326.8L97.9 326.8L98.3 326.7L98.7 326.6L99.0 326.4L99.4 326.3L99.8 326.0L100.2 325.6L100.5 325.3L100.9 324.8L101.3 324.4L101.6 323.9L102.0 323.3L102.4 322.7L102.8 322.0L103.1 321.3L103.5 320.5L103.9 319.6L104.3 318.7L104.6 317.7L105.0 316.6L105.4 315.4L105.7 314.1L106.1 312.8L106.5 311.4L106.9 309.9L107.2 308.3L107.6 306.6L108.0 304.9L108.4 303.0L108.7 301.0L109.1 299.0L109.5 296.9L109.9 294.7L110.2 292.4L110.6 290.0L111.0 287.5L111.3 285.4L111.7 283.4L112.1 281.2L112.5 279.1L112.8 276.8L113.2 274.5L113.6 272.2L114.0 269.7L114.3 267.3L114.7 264.8L115.1 262.2L115.4 259.6L115.8 257.0L116.2 254.3L116.6 251.6L116.9 248.8L117.3 245.9L117.7 243.0L118.1 240.2L118.4 237.6" stroke="#0000ff" stroke-width="3.4" fill="none" stroke-linejoin="round"/>
<path d="M74.0 327.5L74.8 327.5L75.5 327.5L76.2 327.5L77.0 327.5L77.7 327.5L78.4 327.5L79.1 327.5L79.9 327.5L80.6 327.5L81.3 327.5L82.1 327.5L82.8 327.5L83.5 327.5L84.2 327.5L85.0 327.5L85.7 327.5L86.4 327.4L87.1 327.4L87.9 327.3L88.6 327.3L89.3 327.2L90.1 327.1L90.8 326.9L91.5 326.7L92.2 326.5L93.0 326.2L93.7 325.8L94.4 325.3L95.1 324.8" stroke="#000" stroke-width="5.2" fill="none"/>
<path d="M93.0 327.4L93.5 327.4L94.1 327.4L94.7 327.4L95.3 327.4L95.9 327.4L96.4 327.4L97.0 327.3L97.6 327.3L98.2 327.3L98.7 327.3L99.3 327.3L99.9 327.3L100.5 327.2L101.1 327.2L101.6 327.2L102.2 327.2L102.8 327.2L103.4 327.1L104.0 327.1L104.5 327.0L105.1 327.0L105.7 326.9L106.3 326.8L106.8 326.8L107.4 326.7L108.0 326.6L108.6 326.5L109.2 326.4L109.7 326.3L110.3 326.2L110.9 326.0L111.5 325.9L112.0 325.8L112.6 325.6L113.2 325.5L113.8 325.3L114.4 325.2L114.9 325.0L115.5 324.8L116.1 324.6L116.7 324.4L117.2 324.2L117.8 324.0L118.4 323.8L119.0 323.5L119.6 323.3L120.1 323.0L120.7 322.8L121.3 322.5L121.9 322.2L122.5 321.9L123.0 321.6L123.6 321.3L124.2 321.0L124.8 320.7L125.3 320.4L125.9 320.1L126.5 319.7L127.1 319.4L127.7 319.0L128.2 318.7L128.8 318.3L129.4 318.0L130.0 317.6L130.5 317.3L131.1 316.9L131.7 316.5L132.3 316.1L132.9 315.9L133.4 315.6L134.0 315.4L134.6 315.1L135.2 314.8L135.8 314.6L136.3 314.3L136.9 314.1L137.5 313.8L138.1 313.6L138.6 313.4L139.2 313.1L139.8 313.1L140.4 313.0L141.0 313.0L141.5 313.0L142.1 312.9L142.7 312.9L143.3 312.9L143.8 312.9L144.4 312.9L145.0 312.9L145.6 313.0L146.2 313.0L146.7 313.0L147.3 313.0L147.9 313.1L148.5 313.1L149.1 313.2L149.6 313.2L150.2 313.3L150.8 313.4L151.4 313.5L151.9 313.5L152.5 313.6L153.1 313.7L153.7 313.8L154.3 313.9L154.8 314.0L155.4 314.1L156.0 314.1L156.6 314.2L157.1 314.3L157.7 314.4L158.3 314.5L158.9 314.6L159.5 314.7L160.0 314.9L160.6 315.0L161.2 315.1L161.8 315.2L162.4 315.3L162.9 315.4L163.5 315.6L164.1 315.7L164.7 315.8L165.2 315.9L165.8 316.1L166.4 316.2L167.0 316.3L167.6 316.5L168.1 316.6L168.7 316.8L169.3 316.8L169.9 316.9L170.4 317.0L171.0 317.1L171.6 317.2L172.2 317.3L172.8 317.4L173.3 317.5L173.9 317.6L174.5 317.7L175.1 317.8L175.6 317.9L176.2 318.0L176.8 318.1L177.4 318.2L178.0 318.3L178.5 318.4L179.1 318.5L179.7 318.6L180.3 318.7L180.9 318.8L181.4 318.9L182.0 319.0L182.6 319.1L183.2 319.2L183.7 319.3L184.3 319.4L184.9 319.5L185.5 319.6L186.1 319.7L186.6 319.8L187.2 319.8L187.8 319.9L188.4 320.0L188.9 320.0L189.5 320.1L190.1 320.2L190.7 320.2L191.3 320.3L191.8 320.3L192.4 320.4L193.0 320.5L193.6 320.5L194.2 320.6L194.7 320.6L195.3 320.7L195.9 320.8L196.5 320.8L197.0 320.9L197.6 320.9L198.2 321.0L198.8 321.1L199.4 321.1L199.9 321.2L200.5 321.2L201.1 321.3L201.7 321.4L202.2 321.4L202.8 321.5L203.4 321.5L204.0 321.6L204.6 321.7L205.1 321.7L205.7 321.8L206.3 321.8L206.9 321.9L207.5 321.9L208.0 322.0L208.6 322.1L209.2 322.1L209.8 322.2L210.3 322.2L210.9 322.3L211.5 322.3L212.1 322.4L212.7 322.4L213.2 322.5L213.8 322.5L214.4 322.5L215.0 322.6L215.5 322.6L216.1 322.6L216.7 322.7L217.3 322.7L217.9 322.7L218.4 322.8L219.0 322.8L219.6 322.8L220.2 322.9L220.8 322.9L221.3 322.9L221.9 323.0L222.5 323.0L223.1 323.0L223.6 323.1L224.2 323.1L224.8 323.1L225.4 323.2L226.0 323.2L226.5 323.2L227.1 323.3L227.7 323.3L228.3 323.3L228.8 323.3L229.4 323.4L230.0 323.4L230.6 323.4L231.2 323.5L231.7 323.5L232.3 323.5L232.9 323.6L233.5 323.6L234.0 323.6L234.6 323.6L235.2 323.7L235.8 323.7L236.4 323.7L236.9 323.8L237.5 323.8L238.1 323.8L238.7 323.8L239.3 323.9L239.8 323.9L240.4 323.8L241.0 323.8L241.6 323.7L242.1 323.6L242.7 323.6L243.3 323.5L243.9 323.5L244.5 323.4L245.0 323.3L245.6 323.3L246.2 323.2L246.8 323.2L247.3 323.1L247.9 323.1L248.5 323.0L249.1 323.0L249.7 322.9L250.2 322.9L250.8 322.8L251.4 322.8L252.0 322.7L252.6 322.7L253.1 322.6L253.7 322.6L254.3 322.5L254.9 322.5L255.4 322.5L256.0 322.4L256.6 322.4L257.2 322.4L257.8 322.4L258.3 322.4L258.9 322.4L259.5 322.4L260.1 322.4L260.6 322.5L261.2 322.5L261.8 322.5L262.4 322.5L263.0 322.5L263.5 322.6L264.1 322.6L264.7 322.6L265.3 322.6L265.9 322.6L266.4 322.7L267.0 322.7L267.6 322.7L268.2 322.7L268.7 322.7L269.3 322.7L269.9 322.8L270.5 322.8L271.1 322.8L271.6 322.8L272.2 322.8L272.8 322.9L273.4 322.9L273.9 322.9L274.5 322.9L275.1 322.9L275.7 322.8L276.3 322.7L276.8 322.7L277.4 322.6L278.0 322.5L278.6 322.5L279.1 322.4L279.7 322.3L280.3 322.2L280.9 322.2L281.5 322.1L282.0 322.1L282.6 322.0L283.2 321.9L283.8 321.9L284.4 321.8L284.9 321.8L285.5 321.7L286.1 321.6L286.7 321.5L287.2 321.3L287.8 321.0L288.4 320.8L289.0 320.6L289.6 320.4L290.1 320.1L290.7 319.9L291.3 319.7L291.9 319.5L292.4 319.3L293.0 319.1L293.6 318.9L294.2 318.7L294.8 318.5L295.3 318.3L295.9 317.9L296.5 317.5L297.1 317.2L297.7 316.8L298.2 316.5L298.8 316.1L299.4 315.8L300.0 315.5L300.5 315.2L301.1 314.8L301.7 314.5L302.3 314.2L302.9 313.9L303.4 313.6L304.0 313.4L304.6 313.8L305.2 314.3L305.7 314.7L306.3 315.1L306.9 315.5L307.5 315.9L308.1 316.3L308.6 316.7L309.2 317.1L309.8 317.4L310.4 317.8L311.0 318.2L311.5 318.6L312.1 318.9L312.7 319.3L313.3 319.6L313.8 320.0L314.4 320.3L315.0 320.6L315.6 320.8L316.2 321.1L316.7 321.4L317.3 321.6L317.9 321.9L318.5 322.2L319.0 322.4L319.6 322.7L320.2 322.9L320.8 323.1L321.4 323.4L321.9 323.6L322.5 323.9L323.1 324.0L323.7 324.1L324.3 324.1L324.8 324.2L325.4 324.2L326.0 324.3L326.6 324.4L327.1 324.4L327.7 324.5L328.3 324.5L328.9 324.5L329.5 324.5L330.0 324.5L330.6 324.5L331.2 324.4L331.8 324.4L332.3 324.4L332.9 324.3L333.5 324.3L334.1 324.3L334.7 324.3L335.2 324.2L335.8 324.2L336.4 324.2L337.0 324.2L337.5 324.1L338.1 324.1L338.7 324.1L339.3 324.1L339.9 324.0L340.4 324.0L341.0 324.0L341.6 323.9L342.2 323.9L342.8 323.9L343.3 323.8L343.9 323.8L344.5 323.8L345.1 323.7L345.6 323.7L346.2 323.7L346.8 323.6L347.4 323.6L348.0 323.6L348.5 323.6L349.1 323.5L349.7 323.5L350.3 323.5L350.8 323.4L351.4 323.4L352.0 323.4L352.6 323.5L353.2 323.6L353.7 323.8L354.3 323.9L354.9 324.0L355.5 324.1L356.1 324.2L356.6 324.3L357.2 324.4L357.8 324.5L358.4 324.7L358.9 324.8L359.5 324.9L360.1 325.0L360.7 325.1L361.3 325.2L361.8 325.3L362.4 325.4L363.0 325.5L363.6 325.6L364.1 325.7L364.7 325.7L365.3 325.8L365.9 325.8L366.5 325.9L367.0 325.9L367.6 325.9L368.2 326.0L368.8 326.0L369.4 326.0L369.9 326.0L370.5 326.1L371.1 326.1L371.7 326.1L372.2 326.2L372.8 326.2L373.4 326.2L374.0 326.2L374.6 326.3L375.1 326.3L375.7 326.3L376.3 326.3L376.9 326.4L377.4 326.4L378.0 326.4L378.6 326.4L379.2 326.5L379.8 326.5L380.3 326.5L380.9 326.5L381.5 326.5L382.1 326.6L382.6 326.6L383.2 326.6L383.8 326.6L384.4 326.7L385.0 326.7L385.5 326.7L386.1 326.7L386.7 326.7L387.3 326.8L387.9 326.8L388.4 326.8L389.0 326.8L389.6 326.8L390.2 326.9L390.7 326.9L391.3 326.9L391.9 326.9L392.5 326.9L393.1 326.9L393.6 326.9L394.2 326.9L394.8 326.9L395.4 326.9L395.9 326.9L396.5 326.9L397.1 326.9L397.7 326.9L398.3 327.0L398.8 327.0L399.4 327.0L400.0 327.0L400.6 327.0L401.2 327.0L401.7 327.0L402.3 327.0L402.9 327.0L403.5 327.0L404.0 327.0L404.6 327.0L405.2 327.0L405.8 327.0L406.4 327.0L406.9 327.0L407.5 327.0L408.1 327.0L408.7 327.0L409.2 327.0L409.8 327.0L410.4 327.0L411.0 327.1L411.6 327.1L412.1 327.1L412.7 327.1L413.3 327.1L413.9 327.1L414.5 327.1L415.0 327.1L415.6 327.1L416.2 327.1L416.8 327.1L417.3 327.1L417.9 327.1L418.5 327.1L419.1 327.1L419.7 327.1L420.2 327.1L420.8 327.1L421.4 327.1L422.0 327.1L422.5 327.1L423.1 327.1L423.7 327.1L424.3 327.1L424.9 327.1L425.4 327.1L426.0 327.1L426.6 327.1L427.2 327.1L427.8 327.1L428.3 327.1L428.9 327.1L429.5 327.1L430.1 327.2L430.6 327.2L431.2 327.2L431.8 327.2L432.4 327.2L433.0 327.2L433.5 327.2L434.1 327.2L434.7 327.2L435.3 327.2L435.8 327.2L436.4 327.2L437.0 327.2L437.6 327.2L438.2 327.2L438.7 327.2L439.3 327.2L439.9 327.2L440.5 327.2L441.0 327.2L441.6 327.2L442.2 327.2L442.8 327.2L443.4 327.2L443.9 327.2L444.5 327.2L445.1 327.2L445.7 327.2L446.3 327.2L446.8 327.2L447.4 327.2L448.0 327.2L448.6 327.2L449.1 327.2L449.7 327.2L450.3 327.2L450.9 327.2L451.5 327.2L452.0 327.2L452.6 327.2L453.2 327.2L453.8 327.2L454.3 327.2L454.9 327.2L455.5 327.2L456.1 327.2L456.7 327.2L457.2 327.2L457.8 327.2L458.4 327.2L459.0 327.2L459.6 327.2L460.1 327.2L460.7 327.2L461.3 327.2L461.9 327.2L462.4 327.2L463.0 327.2L463.6 327.2L464.2 327.2L464.8 327.2L465.3 327.2L465.9 327.2L466.5 327.2L467.1 327.2L467.6 327.2L468.2 327.2L468.8 327.2L469.4 327.2L470.0 327.2L470.5 327.2L471.1 327.2L471.7 327.2L472.3 327.2L472.9 327.2L473.4 327.2L474.0 327.2L474.6 327.2L475.2 327.2L475.7 327.2L476.3 327.2L476.9 327.2L477.5 327.2L478.1 327.2L478.6 327.2L479.2 327.2L479.8 327.2L480.4 327.1L480.9 327.1L481.5 327.1L482.1 327.1L482.7 327.1L483.3 327.1L483.8 327.1L484.4 327.1L485.0 327.1L485.6 327.1L486.1 327.1L486.7 327.1L487.3 327.1L487.9 327.1L488.5 327.2L489.0 327.2L489.6 327.2L490.2 327.2L490.8 327.2L491.4 327.2L491.9 327.2L492.5 327.2L493.1 327.2L493.7 327.2L494.2 327.2L494.8 327.2L495.4 327.2L496.0 327.3L496.6 327.3L497.1 327.2L497.7 327.2L498.3 327.2L498.9 327.2L499.4 327.2L500.0 327.2L500.6 327.2L501.2 327.2L501.8 327.2L502.3 327.2L502.9 327.2L503.5 327.2L504.1 327.2L504.7 327.2L505.2 327.2L505.8 327.2L506.4 327.2L507.0 327.2L507.5 327.2L508.1 327.2L508.7 327.2L509.3 327.2L509.9 327.2L510.4 327.2L511.0 327.2L511.6 327.1L512.2 327.1L512.7 327.1L513.3 327.1L513.9 327.1L514.5 327.1L515.1 327.1L515.6 327.1L516.2 327.1L516.8 327.1L517.4 327.1L518.0 327.1L518.5 327.1L519.1 327.1L519.7 327.0L520.3 327.0L520.8 327.0L521.4 327.0L522.0 327.0L522.6 327.0L523.2 327.0L523.7 327.0L524.3 327.0L524.9 327.0L525.5 327.0L526.0 327.0L526.6 327.0L527.2 327.0L527.8 327.0L528.4 327.0L528.9 326.9L529.5 326.9L530.1 327.0L530.7 327.0L531.3 327.0L531.8 327.0L532.4 327.0L533.0 327.0L533.6 327.0L534.1 327.0L534.7 327.0L535.3 327.0L535.9 327.1L536.5 327.1L537.0 327.1L537.6 327.1L538.2 327.1L538.8 327.1L539.3 327.1L539.9 327.1L540.5 327.1L541.1 327.1L541.7 327.2L542.2 327.2L542.8 327.2L543.4 327.2L544.0 327.2L544.5 327.2L545.1 327.2L545.7 327.2L546.3 327.2L546.9 327.2L547.4 327.2L548.0 327.2L548.6 327.2L549.2 327.2L549.8 327.2L550.3 327.2L550.9 327.2L551.5 327.2L552.1 327.2L552.6 327.3L553.2 327.3L553.8 327.3L554.4 327.3L555.0 327.3L555.5 327.3L556.1 327.3L556.7 327.3L557.3 327.3L557.8 327.3L558.4 327.3L559.0 327.3L559.6 327.3L560.2 327.3L560.7 327.3L561.3 327.3L561.9 327.3L562.5 327.3L563.1 327.3L563.6 327.3L564.2 327.3L564.8 327.3L565.4 327.3L565.9 327.3L566.5 327.3L567.1 327.3L567.7 327.3L568.3 327.3L568.8 327.3L569.4 327.3L570.0 327.3L570.6 327.3L571.1 327.3L571.7 327.3L572.3 327.3L572.9 327.3L573.5 327.3L574.0 327.3L574.6 327.3L575.2 327.3L575.8 327.3L576.4 327.3L576.9 327.3L577.5 327.3L578.1 327.3L578.7 327.3L579.2 327.3L579.8 327.3L580.4 327.3L581.0 327.3L581.6 327.3L582.1 327.3L582.7 327.3L583.3 327.3L583.9 327.3L584.4 327.3L585.0 327.3L585.6 327.3L586.2 327.3L586.8 327.3L587.3 327.3L587.9 327.3L588.5 327.3L589.1 327.2L589.7 327.2L590.2 327.2L590.8 327.2L591.4 327.2L592.0 327.2L592.5 327.2L593.1 327.2L593.7 327.2L594.3 327.2L594.9 327.2L595.4 327.2L596.0 327.2L596.6 327.2L597.2 327.2L597.7 327.2L598.3 327.2L598.9 327.2L599.5 327.2L600.1 327.2L600.6 327.2L601.2 327.2L601.8 327.2L602.4 327.2L602.9 327.2L603.5 327.2L604.1 327.2L604.7 327.2L605.3 327.2L605.8 327.2L606.4 327.3L607.0 327.3L607.6 327.3L608.2 327.3L608.7 327.3L609.3 327.3L609.9 327.3L610.5 327.3L611.0 327.3L611.6 327.3L612.2 327.3L612.8 327.3L613.4 327.3L613.9 327.3L614.5 327.3L615.1 327.3L615.7 327.3L616.2 327.3L616.8 327.3L617.4 327.3L618.0 327.3L618.6 327.3L619.1 327.3L619.7 327.3L620.3 327.3L620.9 327.3L621.5 327.4L622.0 327.4L622.6 327.4L623.2 327.4L623.8 327.4L624.3 327.4L624.9 327.4L625.5 327.4L626.1 327.4L626.7 327.4L627.2 327.4L627.8 327.4L628.4 327.4L629.0 327.4L629.5 327.4L630.1 327.4L630.7 327.4L631.3 327.4L631.9 327.4L632.4 327.4L633.0 327.4L633.6 327.4L634.2 327.4L634.8 327.4L635.3 327.4L635.9 327.4L636.5 327.4L637.1 327.4L637.6 327.4L638.2 327.4L638.8 327.4L639.4 327.4L640.0 327.4L640.5 327.4L641.1 327.4L641.7 327.4L642.3 327.4L642.8 327.4L643.4 327.4L644.0 327.4L644.6 327.4L645.2 327.4L645.7 327.4L646.3 327.4L646.9 327.4L647.5 327.4L648.0 327.4L648.6 327.4L649.2 327.4L649.8 327.4L650.4 327.4L650.9 327.4L651.5 327.4L652.1 327.4L652.7 327.4L653.3 327.4L653.8 327.4L654.4 327.4L655.0 327.4L655.6 327.4L656.1 327.4L656.7 327.4L657.3 327.4L657.9 327.4L658.5 327.4L659.0 327.4L659.6 327.4L660.2 327.4L660.8 327.4L661.3 327.4L661.9 327.4L662.5 327.4L663.1 327.4L663.7 327.4L664.2 327.4L664.8 327.5L665.4 327.5L666.0 327.5L666.6 327.5L667.1 327.5L667.7 327.5L668.3 327.5L668.9 327.5L669.4 327.5L670.0 327.5L670.6 327.5" stroke="#ff0000" stroke-width="4.5" fill="none" stroke-dasharray="10 6.3"/>
</g>
<g fill="#0000ff"><circle cx="77.8" cy="327.8" r="4"/><circle cx="94.2" cy="327.4" r="4"/><circle cx="110.5" cy="291.0" r="4"/><circle cx="126.8" cy="177.7" r="4"/><circle cx="143.1" cy="103.2" r="4"/><circle cx="159.5" cy="98.4" r="4"/><circle cx="175.8" cy="131.8" r="4"/><circle cx="192.1" cy="176.3" r="4"/><circle cx="208.4" cy="215.7" r="4"/><circle cx="224.8" cy="246.5" r="4"/><circle cx="241.1" cy="269.1" r="4"/><circle cx="257.4" cy="285.3" r="4"/><circle cx="273.7" cy="296.9" r="4"/><circle cx="290.1" cy="305.1" r="4"/><circle cx="306.4" cy="310.9" r="4"/><circle cx="322.7" cy="315.2" r="4"/><circle cx="339.0" cy="318.2" r="4"/><circle cx="355.4" cy="320.5" r="4"/><circle cx="371.7" cy="322.2" r="4"/><circle cx="388.0" cy="323.4" r="4"/><circle cx="404.3" cy="324.3" r="4"/><circle cx="420.7" cy="325.1" r="4"/><circle cx="437.0" cy="325.6" r="4"/><circle cx="453.3" cy="326.1" r="4"/><circle cx="469.6" cy="326.4" r="4"/><circle cx="486.0" cy="326.7" r="4"/><circle cx="502.3" cy="326.9" r="4"/><circle cx="518.6" cy="327.0" r="4"/><circle cx="534.9" cy="327.2" r="4"/><circle cx="551.3" cy="327.3" r="4"/><circle cx="567.6" cy="327.4" r="4"/><circle cx="583.9" cy="327.4" r="4"/><circle cx="600.2" cy="327.5" r="4"/><circle cx="616.6" cy="327.5" r="4"/><circle cx="632.9" cy="327.6" r="4"/><circle cx="649.2" cy="327.6" r="4"/><circle cx="665.5" cy="327.6" r="4"/></g>
<rect x="413.0" y="30.9" width="220.0" height="218.9" fill="#fff" stroke="none"/>
<path d="M460.8 249.8v-2.5M460.8 30.9v2.5M514.4 249.8v-2.5M514.4 30.9v2.5M568.1 249.8v-2.5M568.1 30.9v2.5M621.7 249.8v-2.5M621.7 30.9v2.5M413.0 206.0h2.5M633.0 206.0h-2.5M413.0 162.2h2.5M633.0 162.2h-2.5M413.0 118.5h2.5M633.0 118.5h-2.5M413.0 74.7h2.5M633.0 74.7h-2.5" stroke="#777" stroke-width="1" fill="none"/>
<rect x="413.0" y="30.9" width="220.0" height="218.9" fill="none" stroke="#b4b4b4" stroke-width="1.2"/>
<text x="410.5" y="255.1" font-family="Liberation Sans, sans-serif" font-size="14.5" text-anchor="end">0</text>
<text x="410.5" y="211.3" font-family="Liberation Sans, sans-serif" font-size="14.5" text-anchor="end">0.2</text>
<text x="410.5" y="167.5" font-family="Liberation Sans, sans-serif" font-size="14.5" text-anchor="end">0.4</text>
<text x="410.5" y="123.8" font-family="Liberation Sans, sans-serif" font-size="14.5" text-anchor="end">0.6</text>
<text x="410.5" y="80.0" font-family="Liberation Sans, sans-serif" font-size="14.5" text-anchor="end">0.8</text>
<text x="410.5" y="36.2" font-family="Liberation Sans, sans-serif" font-size="14.5" text-anchor="end">1</text>
<text x="460.8" y="266.7" font-family="Liberation Sans, sans-serif" font-size="14.5" text-anchor="middle">10</text>
<text x="514.4" y="266.7" font-family="Liberation Sans, sans-serif" font-size="14.5" text-anchor="middle">20</text>
<text x="568.1" y="266.7" font-family="Liberation Sans, sans-serif" font-size="14.5" text-anchor="middle">30</text>
<text x="621.7" y="266.7" font-family="Liberation Sans, sans-serif" font-size="14.5" text-anchor="middle">40</text>
<g clip-path="url(#ci)">
<path d="M419.1 240.4L419.3 240.7L419.5 241.0L419.8 241.3L420.0 241.5L420.3 241.8L420.5 242.1L420.7 242.4L421.0 242.7L421.2 243.0L421.4 243.3L421.7 243.6L421.9 243.9L422.1 244.1L422.4 244.4L422.6 244.7L422.9 245.0L423.1 245.3L423.3 245.3L423.6 245.2L423.8 245.0L424.0 244.9L424.3 244.8L424.5 244.6L424.8 244.5L425.0 244.3L425.2 244.2L425.5 244.0L425.7 243.9L425.9 243.7L426.2 243.6L426.4 243.4L426.7 243.3L426.9 243.2L427.1 243.0L427.4 242.9L427.6 242.7L427.8 242.6L428.1 242.4L428.3 242.3L428.6 242.1L428.8 241.9L429.0 241.8L429.3 241.6L429.5 241.4L429.7 241.2L430.0 241.0L430.2 240.8L430.5 240.6L430.7 240.4L430.9 240.2L431.2 240.0L431.4 239.8L431.6 239.6L431.9 239.4L432.1 239.2L432.4 239.0L432.6 238.8L432.8 238.7L433.1 238.5L433.3 238.3L433.5 238.1L433.8 237.9L434.0 237.7L434.3 237.7L434.5 237.6L434.7 237.6L435.0 237.5L435.2 237.4L435.4 237.4L435.7 237.3L435.9 237.3L436.2 237.2L436.4 237.1L436.6 237.2L436.9 237.3L437.1 237.4L437.3 237.5L437.6 237.6L437.8 237.7L438.1 237.8L438.3 238.0L438.5 238.1L438.8 238.2L439.0 238.3L439.2 238.4L439.5 238.5L439.7 238.6L439.9 238.8L440.2 238.9L440.4 239.0L440.7 239.1L440.9 239.2L441.1 239.3L441.4 239.4L441.6 239.6L441.8 239.7L442.1 239.8L442.3 239.9L442.6 240.0L442.8 240.1L443.0 240.2L443.3 240.3L443.5 240.4L443.7 240.5L444.0 240.6L444.2 240.6L444.5 240.7L444.7 240.8L444.9 240.9L445.2 241.0L445.4 241.1L445.6 241.2L445.9 241.3L446.1 241.4L446.4 241.5L446.6 241.6L446.8 241.7L447.1 241.8L447.3 241.9L447.5 242.0L447.8 242.0L448.0 242.1L448.3 242.1L448.5 242.2L448.7 242.3L449.0 242.3L449.2 242.4L449.4 242.4L449.7 242.5L449.9 242.5L450.2 242.6L450.4 242.7L450.6 242.7L450.9 242.8L451.1 242.8L451.3 242.9L451.6 243.0L451.8 243.0L452.1 243.1L452.3 243.1L452.5 243.2L452.8 243.2L453.0 243.3L453.2 243.4L453.5 243.4L453.7 243.5L454.0 243.5L454.2 243.5L454.4 243.5L454.7 243.5L454.9 243.6L455.1 243.6L455.4 243.6L455.6 243.6L455.9 243.7L456.1 243.7L456.3 243.7L456.6 243.7L456.8 243.7L457.0 243.8L457.3 243.8L457.5 243.8L457.7 243.8L458.0 243.8L458.2 243.9L458.5 243.9L458.7 243.9L458.9 243.9L459.2 243.9L459.4 244.0L459.6 244.0L459.9 244.0L460.1 244.0L460.4 244.1L460.6 244.1L460.8 244.1L461.1 244.1L461.3 244.1L461.5 244.2L461.8 244.2L462.0 244.2L462.3 244.2L462.5 244.2L462.7 244.3L463.0 244.3L463.2 244.3L463.4 244.3L463.7 244.3L463.9 244.3L464.2 244.3L464.4 244.3L464.6 244.3L464.9 244.3L465.1 244.3L465.3 244.3L465.6 244.3L465.8 244.3L466.1 244.3L466.3 244.3L466.5 244.3L466.8 244.3L467.0 244.3L467.2 244.3L467.5 244.3L467.7 244.3L468.0 244.3L468.2 244.3L468.4 244.3L468.7 244.3L468.9 244.3L469.1 244.3L469.4 244.3L469.6 244.3L469.9 244.3L470.1 244.3L470.3 244.3L470.6 244.3L470.8 244.3L471.0 244.3L471.3 244.3L471.5 244.3L471.8 244.3L472.0 244.3L472.2 244.3L472.5 244.3L472.7 244.3L472.9 244.3L473.2 244.3L473.4 244.3L473.7 244.3L473.9 244.1L474.1 244.0L474.4 243.8L474.6 243.7L474.8 243.5L475.1 243.3L475.3 243.2L475.6 243.0L475.8 242.9L476.0 242.7L476.3 242.5L476.5 242.4L476.7 242.2L477.0 242.1L477.2 241.9L477.4 241.7L477.7 241.6L477.9 241.4L478.2 241.2L478.4 241.1L478.6 240.9L478.9 240.8L479.1 240.6L479.3 240.4L479.6 240.3L479.8 240.1L480.1 240.0L480.3 239.9L480.5 239.9L480.8 239.8L481.0 239.8L481.2 239.7L481.5 239.7L481.7 239.7L482.0 239.6L482.2 239.6L482.4 239.5L482.7 239.5L482.9 239.5L483.1 239.4L483.4 239.4L483.6 239.3L483.9 239.3L484.1 239.3L484.3 239.2L484.6 239.2L484.8 239.1L485.0 239.1L485.3 239.1L485.5 239.0L485.8 239.0L486.0 238.9L486.2 238.9L486.5 238.9L486.7 238.6L486.9 238.3L487.2 238.0L487.4 237.7L487.7 237.4L487.9 237.1L488.1 236.8L488.4 236.5L488.6 236.2L488.8 235.9L489.1 235.6L489.3 235.3L489.6 235.0L489.8 234.7L490.0 234.4L490.3 234.1L490.5 233.8L490.7 233.5L491.0 232.7L491.2 231.8L491.5 230.9L491.7 230.0L491.9 229.1L492.2 228.3L492.4 227.4L492.6 226.5L492.9 225.6L493.1 224.7L493.4 223.8L493.6 222.9L493.8 222.0L494.1 221.0L494.3 219.5L494.5 218.0L494.8 216.5L495.0 215.0L495.2 213.4L495.5 211.9L495.7 210.4L496.0 208.9L496.2 207.4L496.4 205.9L496.7 204.3L496.9 202.8L497.1 201.3L497.4 201.6L497.6 202.9L497.9 204.1L498.1 205.4L498.3 206.7L498.6 208.0L498.8 209.2L499.0 210.5L499.3 211.8L499.5 213.0L499.8 214.3L500.0 215.6L500.2 216.9L500.5 218.1L500.7 219.4L500.9 220.7L501.2 221.7L501.4 222.7L501.7 223.7L501.9 224.7L502.1 225.7L502.4 226.7L502.6 227.7L502.8 228.7L503.1 229.7L503.3 230.7L503.6 231.7L503.8 232.7L504.0 233.7L504.3 234.5L504.5 234.7L504.7 234.9L505.0 235.0L505.2 235.2L505.5 235.4L505.7 235.5L505.9 235.7L506.2 235.9L506.4 236.0L506.6 235.7L506.9 235.4L507.1 235.2L507.4 234.9L507.6 234.6L507.8 234.4L508.1 234.1L508.3 233.8L508.5 233.6L508.8 233.3L509.0 233.0L509.3 232.8L509.5 232.5L509.7 232.2L510.0 232.0L510.2 231.7L510.4 231.4L510.7 231.1L510.9 230.8L511.2 230.4L511.4 230.1L511.6 229.7L511.9 229.3L512.1 229.0L512.3 228.6L512.6 228.2L512.8 227.9L513.0 227.5L513.3 227.2L513.5 226.8L513.8 226.4L514.0 226.1L514.2 225.7L514.5 225.3L514.7 225.0L514.9 224.7L515.2 225.3L515.4 225.9L515.7 226.6L515.9 227.2L516.1 227.9L516.4 228.5L516.6 229.2L516.8 229.8L517.1 230.5L517.3 231.1L517.6 231.8L517.8 232.4L518.0 233.1L518.3 233.7L518.5 234.3L518.7 235.0L519.0 235.6L519.2 236.3L519.5 236.9L519.7 237.6L519.9 237.9L520.2 238.0L520.4 238.2L520.6 238.3L520.9 238.5L521.1 238.7L521.4 238.8L521.6 239.0L521.8 239.1L522.1 239.3L522.3 239.4L522.5 239.6L522.8 239.7L523.0 239.9L523.3 240.1L523.5 240.2L523.7 240.4L524.0 240.5L524.2 240.7L524.4 240.8L524.7 241.0L524.9 241.1L525.2 241.3L525.4 241.5L525.6 241.6L525.9 241.8L526.1 241.9L526.3 242.1L526.6 242.2L526.8 242.4L527.1 242.6L527.3 242.7L527.5 242.9L527.8 243.0L528.0 243.2L528.2 243.3L528.5 243.5L528.7 243.6L529.0 243.8L529.2 244.0L529.4 244.1L529.7 244.1L529.9 244.1L530.1 244.2L530.4 244.2L530.6 244.2L530.8 244.2L531.1 244.2L531.3 244.2L531.6 244.3L531.8 244.3L532.0 244.3L532.3 244.3L532.5 244.3L532.7 244.4L533.0 244.4L533.2 244.4L533.5 244.4L533.7 244.4L533.9 244.4L534.2 244.5L534.4 244.5L534.6 244.5L534.9 244.5L535.1 244.5L535.4 244.5L535.6 244.6L535.8 244.6L536.1 244.6L536.3 244.6L536.5 244.6L536.8 244.7L537.0 244.7L537.3 244.7L537.5 244.7L537.7 244.7L538.0 244.7L538.2 244.8L538.4 244.8L538.7 244.8L538.9 244.8L539.2 244.8L539.4 244.8L539.6 244.9L539.9 244.9L540.1 244.9L540.3 244.9L540.6 244.9L540.8 245.0L541.1 245.0L541.3 245.0L541.5 245.0L541.8 245.0L542.0 245.0L542.2 245.0L542.5 245.0L542.7 245.0L543.0 245.0L543.2 245.0L543.4 245.0L543.7 245.0L543.9 245.0L544.1 245.0L544.4 245.0L544.6 245.0L544.9 245.0L545.1 245.0L545.3 245.0L545.6 245.0L545.8 245.0L546.0 245.0L546.3 245.0L546.5 245.0L546.8 245.0L547.0 245.0L547.2 245.0L547.5 245.0L547.7 245.0L547.9 245.0L548.2 245.0L548.4 245.0L548.7 245.0L548.9 245.0L549.1 245.0L549.4 245.0L549.6 245.0L549.8 245.0L550.1 245.0L550.3 245.0L550.5 244.9L550.8 244.9L551.0 244.9L551.3 244.9L551.5 244.9L551.7 244.9L552.0 244.9L552.2 244.9L552.4 244.8L552.7 244.8L552.9 244.8L553.2 244.8L553.4 244.8L553.6 244.8L553.9 244.8L554.1 244.8L554.3 244.7L554.6 244.7L554.8 244.7L555.1 244.7L555.3 244.7L555.5 244.7L555.8 244.7L556.0 244.6L556.2 244.6L556.5 244.6L556.7 244.6L557.0 244.6L557.2 244.6L557.4 244.6L557.7 244.6L557.9 244.5L558.1 244.4L558.4 244.3L558.6 244.1L558.9 244.0L559.1 243.9L559.3 243.7L559.6 243.6L559.8 243.5L560.0 243.4L560.3 243.2L560.5 243.1L560.8 243.0L561.0 242.8L561.2 242.7L561.5 242.6L561.7 242.5L561.9 242.3L562.2 242.2L562.4 242.1L562.7 241.9L562.9 241.8L563.1 241.7L563.4 241.5L563.6 241.4L563.8 241.3L564.1 241.2L564.3 241.1L564.6 241.2L564.8 241.4L565.0 241.6L565.3 241.7L565.5 241.9L565.7 242.1L566.0 242.2L566.2 242.4L566.5 242.6L566.7 242.7L566.9 242.9L567.2 243.0L567.4 243.2L567.6 243.4L567.9 243.5L568.1 243.6L568.3 243.5L568.6 243.3L568.8 243.2L569.1 243.0L569.3 242.8L569.5 242.7L569.8 242.5L570.0 242.4L570.2 242.2L570.5 242.0L570.7 241.9L571.0 241.7L571.2 241.6L571.4 241.4L571.7 241.3L571.9 241.1L572.1 240.9L572.4 240.8L572.6 240.6L572.9 240.5L573.1 240.3L573.3 240.1L573.6 240.0L573.8 239.8L574.0 239.6L574.3 239.3L574.5 239.0L574.8 238.7L575.0 238.4L575.2 238.1L575.5 237.8L575.7 237.5L575.9 237.2L576.2 236.8L576.4 236.5L576.7 236.2L576.9 235.9L577.1 235.6L577.4 235.3L577.6 235.0L577.8 234.7L578.1 234.4L578.3 234.1L578.6 233.8L578.8 233.5L579.0 233.2L579.3 232.9L579.5 232.6L579.7 232.3L580.0 231.9L580.2 231.6L580.5 231.5L580.7 231.8L580.9 232.1L581.2 232.4L581.4 232.7L581.6 233.1L581.9 233.4L582.1 233.7L582.4 234.0L582.6 234.3L582.8 234.6L583.1 234.9L583.3 235.2L583.5 235.6L583.8 235.9L584.0 236.2L584.3 236.5L584.5 236.8L584.7 237.1L585.0 237.4L585.2 237.7L585.4 237.9L585.7 238.0L585.9 238.2L586.1 238.3L586.4 238.5L586.6 238.6L586.9 238.7L587.1 238.9L587.3 239.0L587.6 239.2L587.8 239.3L588.0 239.4L588.3 239.6L588.5 239.7L588.8 239.9L589.0 240.0L589.2 240.2L589.5 240.3L589.7 240.4L589.9 240.6L590.2 240.7L590.4 240.9L590.7 241.0L590.9 241.1L591.1 241.3L591.4 241.4L591.6 241.6L591.8 241.7L592.1 241.9L592.3 241.9L592.6 241.7L592.8 241.6L593.0 241.5L593.3 241.4L593.5 241.3L593.7 241.1L594.0 241.0L594.2 240.9L594.5 240.8L594.7 240.7L594.9 240.5L595.2 240.4L595.4 240.3L595.6 240.2L595.9 240.1L596.1 239.9L596.4 239.8L596.6 239.7L596.8 239.6L597.1 239.5L597.3 239.4L597.5 239.2L597.8 239.1L598.0 239.0L598.3 238.9L598.5 238.8L598.7 238.6L599.0 238.5L599.2 238.4L599.4 238.3L599.7 238.2L599.9 238.1L600.2 238.0L600.4 237.9L600.6 237.7L600.9 237.6L601.1 237.5L601.3 237.4L601.6 237.3L601.8 237.2L602.1 237.1L602.3 237.0L602.5 236.9L602.8 236.8L603.0 236.7L603.2 236.5L603.5 236.4L603.7 236.3L603.9 236.2L604.2 236.1L604.4 236.0L604.7 235.9L604.9 235.8L605.1 235.7L605.4 235.6L605.6 235.5L605.8 235.4L606.1 235.2L606.3 235.1L606.6 235.0L606.8 234.9L607.0 234.8L607.3 234.7L607.5 234.6L607.7 234.5L608.0 234.7L608.2 234.9L608.5 235.1L608.7 235.3L608.9 235.5L609.2 235.7L609.4 235.9L609.6 236.2L609.9 236.4L610.1 236.6L610.4 236.8L610.6 237.0L610.8 237.2L611.1 237.4L611.3 237.6L611.5 237.8L611.8 238.0L612.0 238.3L612.3 238.5L612.5 238.7L612.7 238.9L613.0 239.1L613.2 239.3L613.4 239.5L613.7 239.7L613.9 239.9L614.2 240.1L614.4 240.3L614.6 240.4L614.9 240.5L615.1 240.6L615.3 240.7L615.6 240.8L615.8 240.9L616.1 241.0L616.3 241.1L616.5 241.2L616.8 241.3L617.0 241.4L617.2 241.6L617.5 241.7L617.7 241.8L618.0 241.9L618.2 242.0L618.4 242.1L618.7 242.2L618.9 242.3L619.1 242.4L619.4 242.5L619.6 242.6L619.9 242.7L620.1 242.8L620.3 243.0L620.6 243.1L620.8 243.2L621.0 243.3L621.3 243.4L621.5 243.5L621.7 243.6L622.0 243.7L622.2 243.8L622.5 243.9L622.7 244.0L622.9 244.1L623.2 244.2L623.4 244.3L623.6 244.5L623.9 244.6L624.1 244.6L624.4 244.6L624.6 244.7L624.8 244.7L625.1 244.7L625.3 244.8L625.5 244.8L625.8 244.8L626.0 244.9L626.3 244.9L626.5 245.0L626.7 245.0L627.0 245.0L627.2 245.1L627.4 245.1L627.7 245.1L627.9 245.2L628.2 245.2L628.4 245.2L628.6 245.3L628.9 245.3L629.1 245.4L629.3 245.4L629.6 245.4L629.8 245.5L630.1 245.5L630.3 245.5L630.5 245.6L630.8 245.6L631.0 245.6L631.2 245.7L631.5 245.7L631.7 245.8L632.0 245.8L632.2 245.8L632.4 245.9" stroke="#ff0000" stroke-width="3" fill="none" stroke-dasharray="6 4"/>
<path d="M414.1 191.4L415.9 82.8L418.9 122.4L420.5 226.7L423.1 218.9L423.3 176.5L425.5 128.3L426.5 93.3L427.6 71.0L428.9 60.0L430.2 55.0L430.4 54.8L430.6 54.6L430.8 54.4L431.0 54.3L431.2 54.1L431.4 53.9L431.6 53.7L431.8 53.5L432.0 53.5L432.2 53.7L432.4 53.9L432.6 54.1L432.8 54.3L433.0 54.5L433.2 54.7L433.4 54.9L433.6 55.1L433.8 55.3L434.0 55.6L434.2 55.8L434.4 56.1L434.6 56.4L434.8 56.7L435.0 57.0L435.2 57.3L435.4 57.6L435.6 57.9L435.8 58.2L436.0 58.6L436.2 59.0L436.4 59.5L436.6 59.9L436.9 60.4L437.1 60.9L437.3 61.4L437.5 61.9L437.7 62.4L437.9 63.0L438.1 63.5L438.3 64.1L438.5 64.6L438.7 65.2L438.9 65.8L439.1 66.4L439.3 67.0L439.5 67.6L439.7 68.2L439.9 68.8L440.1 69.4L440.3 70.0L440.5 70.6L440.7 71.3L440.9 71.9L441.1 72.5L441.3 73.2L441.5 73.8L441.7 74.5L441.9 75.1L442.1 75.8L442.3 76.5L442.5 77.1L442.7 77.8L442.9 78.4L443.1 79.1L443.3 79.8L443.5 80.4L443.7 81.1L443.9 81.8L444.1 82.5L444.3 83.1L444.5 83.8L444.7 84.5L444.9 85.1L445.2 85.8L445.4 86.5L445.6 87.2L445.8 87.8L446.0 88.5L446.2 89.2L446.4 89.8L446.6 90.5L446.8 91.2L447.0 91.8L447.2 92.5L447.4 93.2L447.6 93.8L447.8 94.5L448.0 95.2L448.2 95.8L448.4 96.5L448.6 97.1L448.8 97.8L449.0 98.4L449.2 99.1L449.4 99.7L449.6 100.4L449.8 101.0L450.0 101.7L450.2 102.3L450.4 102.9L450.6 103.6L450.8 104.2L451.0 104.8L451.2 105.4L451.4 106.1L451.6 106.7L451.8 107.3L452.0 107.9L452.2 108.5L452.4 109.2L452.6 109.8L452.8 110.4L453.0 111.0L453.3 111.6L453.5 112.2L453.7 112.8L453.9 113.4L454.1 114.0L454.3 114.5L454.5 115.1L454.7 115.7L454.9 116.3L455.1 116.9L455.3 117.4L455.5 118.0L455.7 118.6L455.9 119.1L456.1 119.7L456.3 120.3L456.5 120.8L456.7 121.4L456.9 121.9L457.1 122.5L457.3 123.0L457.5 123.6L457.7 124.1L457.9 124.7L458.1 125.2L458.3 125.7L458.5 126.2L458.7 126.8L458.9 127.3L459.1 127.8L459.3 128.3L459.5 128.9L459.7 129.4L459.9 129.9L460.1 130.4L460.3 130.9L460.5 131.4L460.7 131.9L460.9 132.4L461.1 132.9L461.3 133.4L461.6 133.9L461.8 134.3L462.0 134.8L462.2 135.3L462.4 135.8L462.6 136.3L462.8 136.7L463.0 137.2L463.2 137.7L463.4 138.1L463.6 138.6L463.8 139.0L464.0 139.5L464.2 140.0L464.4 140.4L464.6 140.9L464.8 141.3L465.0 141.7L465.2 142.2L465.4 142.6L465.6 143.1L465.8 143.5L466.0 143.9L466.2 144.4L466.4 144.8L466.6 145.2L466.8 145.6L467.0 146.0L467.2 146.5L467.4 146.9L467.6 147.3L467.8 147.7L468.0 148.1L468.2 148.5L468.4 148.9L468.6 149.3L468.8 149.7L469.0 150.1L469.2 150.5L469.4 150.9L469.6 151.3L469.9 151.7L470.1 152.1L470.3 152.4L470.5 152.8L470.7 153.2L470.9 153.6L471.1 154.0L471.3 154.3L471.5 154.7L471.7 155.1L471.9 155.4L472.1 155.8L472.3 156.2L472.5 156.5L472.7 156.9L472.9 157.2L473.1 157.6L473.3 157.9L473.5 158.3L473.7 158.6L473.9 159.0L474.1 159.3L474.3 159.7L474.5 160.0L474.7 160.3L474.9 160.7L475.1 161.0L475.3 161.3L475.5 161.7L475.7 162.0L475.9 162.3L476.1 162.7L476.3 163.0L476.5 163.3L476.7 163.6L476.9 163.9L477.1 164.3L477.3 164.6L477.5 164.9L477.7 165.2L478.0 165.5L478.2 165.8L478.4 166.1L478.6 166.4L478.8 166.7L479.0 167.0L479.2 167.3L479.4 167.6L479.6 167.9L479.8 168.2L480.0 168.5L480.2 168.8L480.4 169.1L480.6 169.4L480.8 169.7L481.0 170.0L481.2 170.3L481.4 170.5L481.6 170.8L481.8 171.1L482.0 171.4L482.2 171.7L482.4 171.9L482.6 172.2L482.8 172.5L483.0 172.7L483.2 173.0L483.4 173.3L483.6 173.5L483.8 173.8L484.0 174.1L484.2 174.3L484.4 174.6L484.6 174.9L484.8 175.1L485.0 175.4L485.2 175.6L485.4 175.9L485.6 176.1L485.8 176.4L486.0 176.6L486.3 176.9L486.5 177.1L486.7 177.4L486.9 177.6L487.1 177.9L487.3 178.1L487.5 178.4L487.7 178.6L487.9 178.8L488.1 179.1L488.3 179.3L488.5 179.5L488.7 179.8L488.9 180.0L489.1 180.2L489.3 180.5L489.5 180.7L489.7 180.9L489.9 181.2L490.1 181.4L490.3 181.6L490.5 181.8L490.7 182.1L490.9 182.3L491.1 182.5L491.3 182.7L491.5 182.9L491.7 183.2L491.9 183.4L492.1 183.6L492.3 183.8L492.5 184.0L492.7 184.2L492.9 184.4L493.1 184.7L493.3 184.9L493.5 185.1L493.7 185.3L493.9 185.5L494.1 185.7L494.4 185.9L494.6 186.1L494.8 186.3L495.0 186.5L495.2 186.7L495.4 186.9L495.6 187.1L495.8 187.3L496.0 187.5L496.2 187.7L496.4 187.9L496.6 188.1L496.8 188.3L497.0 188.5L497.2 188.7L497.4 188.8L497.6 189.0L497.8 189.2L498.0 189.4L498.2 189.6L498.4 189.8L498.6 190.0L498.8 190.1L499.0 190.3L499.2 190.5L499.4 190.7L499.6 190.9L499.8 191.1L500.0 191.2L500.2 191.4L500.4 191.6L500.6 191.8L500.8 191.9L501.0 192.1L501.2 192.3L501.4 192.5L501.6 192.6L501.8 192.8L502.0 193.0L502.2 193.1L502.4 193.3L502.7 193.5L502.9 193.6L503.1 193.8L503.3 194.0L503.5 194.1L503.7 194.3L503.9 194.5L504.1 194.6L504.3 194.8L504.5 195.0L504.7 195.1L504.9 195.3L505.1 195.4L505.3 195.6L505.5 195.8L505.7 195.9L505.9 196.1L506.1 196.2L506.3 196.4L506.5 196.5L506.7 196.7L506.9 196.9L507.1 197.0L507.3 197.2L507.5 197.3L507.7 197.5L507.9 197.6L508.1 197.8L508.3 197.9L508.5 198.1L508.7 198.2L508.9 198.4L509.1 198.5L509.3 198.6L509.5 198.8L509.7 198.9L509.9 199.1L510.1 199.2L510.3 199.4L510.5 199.5L510.7 199.6L511.0 199.8L511.2 199.9L511.4 200.1L511.6 200.2L511.8 200.3L512.0 200.5L512.2 200.6L512.4 200.8L512.6 200.9L512.8 201.0L513.0 201.2L513.2 201.3L513.4 201.4L513.6 201.6L513.8 201.7L514.0 201.8L514.2 202.0L514.4 202.1L514.6 202.2L514.8 202.4L515.0 202.5L515.2 202.6L515.4 202.7L515.6 202.9L515.8 203.0L516.0 203.1L516.2 203.3L516.4 203.4L516.6 203.5L516.8 203.6L517.0 203.8L517.2 203.9L517.4 204.0L517.6 204.1L517.8 204.2L518.0 204.4L518.2 204.5L518.4 204.6L518.6 204.7L518.8 204.9L519.1 205.0L519.3 205.1L519.5 205.2L519.7 205.3L519.9 205.4L520.1 205.6L520.3 205.7L520.5 205.8L520.7 205.9L520.9 206.0L521.1 206.1L521.3 206.3L521.5 206.4L521.7 206.5L521.9 206.6L522.1 206.7L522.3 206.8L522.5 206.9L522.7 207.0L522.9 207.2L523.1 207.3L523.3 207.4L523.5 207.5L523.7 207.6L523.9 207.7L524.1 207.8L524.3 207.9L524.5 208.0L524.7 208.1L524.9 208.2L525.1 208.4L525.3 208.5L525.5 208.6L525.7 208.7L525.9 208.8L526.1 208.9L526.3 209.0L526.5 209.1L526.7 209.2L526.9 209.3L527.1 209.4L527.4 209.5L527.6 209.6L527.8 209.7L528.0 209.8L528.2 209.9L528.4 210.0L528.6 210.1L528.8 210.2L529.0 210.3L529.2 210.4L529.4 210.5L529.6 210.6L529.8 210.7L530.0 210.8L530.2 210.9L530.4 211.0L530.6 211.1L530.8 211.2L531.0 211.3L531.2 211.4L531.4 211.5L531.6 211.6L531.8 211.7L532.0 211.8L532.2 211.8L532.4 211.9L532.6 212.0L532.8 212.1L533.0 212.2L533.2 212.3L533.4 212.4L533.6 212.5L533.8 212.6L534.0 212.7L534.2 212.8L534.4 212.9L534.6 212.9L534.8 213.0L535.0 213.1L535.2 213.2L535.5 213.3L535.7 213.4L535.9 213.5L536.1 213.6L536.3 213.7L536.5 213.7L536.7 213.8L536.9 213.9L537.1 214.0L537.3 214.1L537.5 214.2L537.7 214.3L537.9 214.3L538.1 214.4L538.3 214.5L538.5 214.6L538.7 214.7L538.9 214.8L539.1 214.9L539.3 214.9L539.5 215.0L539.7 215.1L539.9 215.2L540.1 215.3L540.3 215.3L540.5 215.4L540.7 215.5L540.9 215.6L541.1 215.7L541.3 215.8L541.5 215.8L541.7 215.9L541.9 216.0L542.1 216.1L542.3 216.1L542.5 216.2L542.7 216.3L542.9 216.4L543.1 216.5L543.3 216.5L543.5 216.6L543.8 216.7L544.0 216.8L544.2 216.8L544.4 216.9L544.6 217.0L544.8 217.1L545.0 217.2L545.2 217.2L545.4 217.3L545.6 217.4L545.8 217.5L546.0 217.5L546.2 217.6L546.4 217.7L546.6 217.7L546.8 217.8L547.0 217.9L547.2 218.0L547.4 218.0L547.6 218.1L547.8 218.2L548.0 218.3L548.2 218.3L548.4 218.4L548.6 218.5L548.8 218.5L549.0 218.6L549.2 218.7L549.4 218.8L549.6 218.8L549.8 218.9L550.0 219.0L550.2 219.0L550.4 219.1L550.6 219.2L550.8 219.2L551.0 219.3L551.2 219.4L551.4 219.5L551.6 219.5L551.8 219.6L552.1 219.7L552.3 219.7L552.5 219.8L552.7 219.9L552.9 219.9L553.1 220.0L553.3 220.1L553.5 220.1L553.7 220.2L553.9 220.3L554.1 220.3L554.3 220.4L554.5 220.5L554.7 220.5L554.9 220.6L555.1 220.6L555.3 220.7L555.5 220.8L555.7 220.8L555.9 220.9L556.1 221.0L556.3 221.0L556.5 221.1L556.7 221.2L556.9 221.2L557.1 221.3L557.3 221.3L557.5 221.4L557.7 221.5L557.9 221.5L558.1 221.6L558.3 221.7L558.5 221.7L558.7 221.8L558.9 221.8L559.1 221.9L559.3 222.0L559.5 222.0L559.7 222.1L559.9 222.1L560.2 222.2L560.4 222.3L560.6 222.3L560.8 222.4L561.0 222.4L561.2 222.5L561.4 222.6L561.6 222.6L561.8 222.7L562.0 222.7L562.2 222.8L562.4 222.9L562.6 222.9L562.8 223.0L563.0 223.0L563.2 223.1L563.4 223.1L563.6 223.2L563.8 223.3L564.0 223.3L564.2 223.4L564.4 223.4L564.6 223.5L564.8 223.5L565.0 223.6L565.2 223.6L565.4 223.7L565.6 223.8L565.8 223.8L566.0 223.9L566.2 223.9L566.4 224.0L566.6 224.0L566.8 224.1L567.0 224.1L567.2 224.2L567.4 224.3L567.6 224.3L567.8 224.4L568.0 224.4L568.2 224.5L568.5 224.5L568.7 224.6L568.9 224.6L569.1 224.7L569.3 224.7L569.5 224.8L569.7 224.8L569.9 224.9L570.1 224.9L570.3 225.0L570.5 225.0L570.7 225.1L570.9 225.2L571.1 225.2L571.3 225.3L571.5 225.3L571.7 225.4L571.9 225.4L572.1 225.5L572.3 225.5L572.5 225.6L572.7 225.6L572.9 225.7L573.1 225.7L573.3 225.8L573.5 225.8L573.7 225.9L573.9 225.9L574.1 226.0L574.3 226.0L574.5 226.1L574.7 226.1L574.9 226.2L575.1 226.2L575.3 226.3L575.5 226.3L575.7 226.3L575.9 226.4L576.1 226.4L576.3 226.5L576.6 226.5L576.8 226.6L577.0 226.6L577.2 226.7L577.4 226.7L577.6 226.8L577.8 226.8L578.0 226.9L578.2 226.9L578.4 227.0L578.6 227.0L578.8 227.1L579.0 227.1L579.2 227.2L579.4 227.2L579.6 227.2L579.8 227.3L580.0 227.3L580.2 227.4L580.4 227.4L580.6 227.5L580.8 227.5L581.0 227.6L581.2 227.6L581.4 227.7L581.6 227.7L581.8 227.7L582.0 227.8L582.2 227.8L582.4 227.9L582.6 227.9L582.8 228.0L583.0 228.0L583.2 228.1L583.4 228.1L583.6 228.1L583.8 228.2L584.0 228.2L584.2 228.3L584.4 228.3L584.6 228.4L584.9 228.4L585.1 228.4L585.3 228.5L585.5 228.5L585.7 228.6L585.9 228.6L586.1 228.7L586.3 228.7L586.5 228.7L586.7 228.8L586.9 228.8L587.1 228.9L587.3 228.9L587.5 228.9L587.7 229.0L587.9 229.0L588.1 229.1L588.3 229.1L588.5 229.2L588.7 229.2L588.9 229.2L589.1 229.3L589.3 229.3L589.5 229.4L589.7 229.4L589.9 229.4L590.1 229.5L590.3 229.5L590.5 229.6L590.7 229.6L590.9 229.6L591.1 229.7L591.3 229.7L591.5 229.8L591.7 229.8L591.9 229.8L592.1 229.9L592.3 229.9L592.5 230.0L592.7 230.0L592.9 230.0L593.2 230.1L593.4 230.1L593.6 230.1L593.8 230.2L594.0 230.2L594.2 230.3L594.4 230.3L594.6 230.3L594.8 230.4L595.0 230.4L595.2 230.5L595.4 230.5L595.6 230.5L595.8 230.6L596.0 230.6L596.2 230.6L596.4 230.7L596.6 230.7L596.8 230.7L597.0 230.8L597.2 230.8L597.4 230.9L597.6 230.9L597.8 230.9L598.0 231.0L598.2 231.0L598.4 231.0L598.6 231.1L598.8 231.1L599.0 231.2L599.2 231.2L599.4 231.2L599.6 231.3L599.8 231.3L600.0 231.3L600.2 231.4L600.4 231.4L600.6 231.4L600.8 231.5L601.0 231.5L601.3 231.5L601.5 231.6L601.7 231.6L601.9 231.6L602.1 231.7L602.3 231.7L602.5 231.8L602.7 231.8L602.9 231.8L603.1 231.9L603.3 231.9L603.5 231.9L603.7 232.0L603.9 232.0L604.1 232.0L604.3 232.1L604.5 232.1L604.7 232.1L604.9 232.2L605.1 232.2L605.3 232.2L605.5 232.3L605.7 232.3L605.9 232.3L606.1 232.4L606.3 232.4L606.5 232.4L606.7 232.5L606.9 232.5L607.1 232.5L607.3 232.6L607.5 232.6L607.7 232.6L607.9 232.7L608.1 232.7L608.3 232.7L608.5 232.8L608.7 232.8L608.9 232.8L609.1 232.9L609.3 232.9L609.6 232.9L609.8 232.9L610.0 233.0L610.2 233.0L610.4 233.0L610.6 233.1L610.8 233.1L611.0 233.1L611.2 233.2L611.4 233.2L611.6 233.2L611.8 233.3L612.0 233.3L612.2 233.3L612.4 233.4L612.6 233.4L612.8 233.4L613.0 233.4L613.2 233.5L613.4 233.5L613.6 233.5L613.8 233.6L614.0 233.6L614.2 233.6L614.4 233.7L614.6 233.7L614.8 233.7L615.0 233.8L615.2 233.8L615.4 233.8L615.6 233.8L615.8 233.9L616.0 233.9L616.2 233.9L616.4 234.0L616.6 234.0L616.8 234.0L617.0 234.0L617.2 234.1L617.4 234.1L617.7 234.1L617.9 234.2L618.1 234.2L618.3 234.2L618.5 234.3L618.7 234.3L618.9 234.3L619.1 234.3L619.3 234.4L619.5 234.4L619.7 234.4L619.9 234.5L620.1 234.5L620.3 234.5L620.5 234.5L620.7 234.6L620.9 234.6L621.1 234.6L621.3 234.6L621.5 234.7L621.7 234.7L621.9 234.7L622.1 234.8L622.3 234.8L622.5 234.8L622.7 234.8L622.9 234.9L623.1 234.9L623.3 234.9L623.5 235.0L623.7 235.0L623.9 235.0L624.1 235.0L624.3 235.1L624.5 235.1L624.7 235.1L624.9 235.1L625.1 235.2L625.3 235.2L625.5 235.2L625.7 235.2L626.0 235.3L626.2 235.3L626.4 235.3L626.6 235.4L626.8 235.4L627.0 235.4L627.2 235.4L627.4 235.5L627.6 235.5L627.8 235.5L628.0 235.5L628.2 235.6L628.4 235.6L628.6 235.6L628.8 235.6L629.0 235.7L629.2 235.7L629.4 235.7L629.6 235.7L629.8 235.8L630.0 235.8L630.2 235.8L630.4 235.8L630.6 235.9L630.8 235.9L631.0 235.9L631.2 235.9L631.4 236.0L631.6 236.0L631.8 236.0L632.0 236.0L632.2 236.1L632.4 236.1" stroke="#0000ff" stroke-width="3.5" fill="none" stroke-linejoin="round"/>
</g>
<path d="M413.6 146L413.8 200L414.6 223.5L415.4 232L419.1 240.4M417.5 205L417.5 226L415 234" stroke="#ff0000" stroke-width="3" fill="none" stroke-dasharray="6 4"/>
<g fill="#0000ff"><circle cx="414.1" cy="191.4" r="3"/><circle cx="415.9" cy="82.8" r="3"/><circle cx="418.9" cy="122.4" r="3"/><circle cx="420.5" cy="226.7" r="3"/><circle cx="423.1" cy="218.9" r="3"/><circle cx="423.3" cy="176.5" r="3"/><circle cx="425.5" cy="128.3" r="3"/><circle cx="426.5" cy="93.3" r="3"/><circle cx="427.6" cy="71.0" r="3"/><circle cx="428.9" cy="60.0" r="3"/><circle cx="419.9" cy="187.0" r="3"/><circle cx="430.2" cy="55.0" r="2.5"/><circle cx="431.8" cy="53.5" r="2.5"/><circle cx="433.4" cy="54.9" r="2.5"/><circle cx="435.0" cy="57.0" r="2.5"/><circle cx="436.6" cy="59.8" r="2.5"/><circle cx="438.2" cy="63.9" r="2.5"/><circle cx="439.8" cy="68.6" r="2.5"/><circle cx="441.4" cy="73.6" r="2.5"/><circle cx="443.0" cy="78.8" r="2.5"/><circle cx="444.7" cy="84.2" r="2.5"/><circle cx="446.3" cy="89.5" r="2.5"/><circle cx="447.9" cy="94.8" r="2.5"/><circle cx="449.5" cy="100.0" r="2.5"/><circle cx="451.1" cy="105.0" r="2.5"/><circle cx="452.7" cy="109.9" r="2.5"/><circle cx="454.3" cy="114.7" r="2.5"/><circle cx="455.9" cy="119.3" r="2.5"/><circle cx="457.5" cy="123.7" r="2.5"/><circle cx="459.1" cy="127.9" r="2.5"/><circle cx="460.8" cy="131.9" r="2.5"/><circle cx="462.4" cy="135.8" r="2.5"/><circle cx="464.0" cy="139.5" r="2.5"/><circle cx="465.6" cy="143.0" r="2.5"/><circle cx="467.2" cy="146.4" r="2.5"/><circle cx="468.8" cy="149.6" r="2.5"/><circle cx="470.4" cy="152.7" r="2.5"/><circle cx="472.0" cy="155.7" r="2.5"/><circle cx="473.6" cy="158.5" r="2.5"/><circle cx="475.2" cy="161.2" r="2.5"/><circle cx="476.8" cy="163.8" r="2.5"/><circle cx="478.5" cy="166.3" r="2.5"/><circle cx="480.1" cy="168.7" r="2.5"/><circle cx="481.7" cy="170.9" r="2.5"/><circle cx="483.3" cy="173.1" r="2.5"/><circle cx="484.9" cy="175.2" r="2.5"/><circle cx="486.5" cy="177.2" r="2.5"/><circle cx="488.1" cy="179.1" r="2.5"/><circle cx="489.7" cy="181.0" r="2.5"/><circle cx="491.3" cy="182.7" r="2.5"/><circle cx="492.9" cy="184.5" r="2.5"/><circle cx="494.5" cy="186.1" r="2.5"/><circle cx="496.2" cy="187.7" r="2.5"/><circle cx="497.8" cy="189.2" r="2.5"/><circle cx="499.4" cy="190.7" r="2.5"/><circle cx="501.0" cy="192.1" r="2.5"/><circle cx="502.6" cy="193.4" r="2.5"/><circle cx="504.2" cy="194.8" r="2.5"/><circle cx="505.8" cy="196.0" r="2.5"/><circle cx="507.4" cy="197.2" r="2.5"/><circle cx="509.0" cy="198.4" r="2.5"/><circle cx="510.6" cy="199.6" r="2.5"/><circle cx="512.3" cy="200.7" r="2.5"/><circle cx="513.9" cy="201.7" r="2.5"/><circle cx="515.5" cy="202.8" r="2.5"/><circle cx="517.1" cy="203.8" r="2.5"/><circle cx="518.7" cy="204.8" r="2.5"/><circle cx="520.3" cy="205.7" r="2.5"/><circle cx="521.9" cy="206.6" r="2.5"/><circle cx="523.5" cy="207.5" r="2.5"/><circle cx="525.1" cy="208.4" r="2.5"/><circle cx="526.7" cy="209.2" r="2.5"/><circle cx="528.3" cy="210.0" r="2.5"/><circle cx="530.0" cy="210.8" r="2.5"/><circle cx="531.6" cy="211.6" r="2.5"/><circle cx="533.2" cy="212.3" r="2.5"/><circle cx="534.8" cy="213.0" r="2.5"/><circle cx="536.4" cy="213.7" r="2.5"/><circle cx="538.0" cy="214.4" r="2.5"/><circle cx="539.6" cy="215.1" r="2.5"/><circle cx="541.2" cy="215.7" r="2.5"/><circle cx="542.8" cy="216.3" r="2.5"/><circle cx="544.4" cy="217.0" r="2.5"/><circle cx="546.1" cy="217.6" r="2.5"/><circle cx="547.7" cy="218.1" r="2.5"/><circle cx="549.3" cy="218.7" r="2.5"/><circle cx="550.9" cy="219.3" r="2.5"/><circle cx="552.5" cy="219.8" r="2.5"/><circle cx="554.1" cy="220.3" r="2.5"/><circle cx="555.7" cy="220.8" r="2.5"/><circle cx="557.3" cy="221.3" r="2.5"/><circle cx="558.9" cy="221.8" r="2.5"/><circle cx="560.5" cy="222.3" r="2.5"/><circle cx="562.1" cy="222.8" r="2.5"/><circle cx="563.8" cy="223.2" r="2.5"/><circle cx="565.4" cy="223.7" r="2.5"/><circle cx="567.0" cy="224.1" r="2.5"/><circle cx="568.6" cy="224.6" r="2.5"/><circle cx="570.2" cy="225.0" r="2.5"/><circle cx="571.8" cy="225.4" r="2.5"/><circle cx="573.4" cy="225.8" r="2.5"/><circle cx="575.0" cy="226.2" r="2.5"/><circle cx="576.6" cy="226.6" r="2.5"/><circle cx="578.2" cy="226.9" r="2.5"/><circle cx="579.9" cy="227.3" r="2.5"/><circle cx="581.5" cy="227.7" r="2.5"/><circle cx="583.1" cy="228.0" r="2.5"/><circle cx="584.7" cy="228.4" r="2.5"/><circle cx="586.3" cy="228.7" r="2.5"/><circle cx="587.9" cy="229.0" r="2.5"/><circle cx="589.5" cy="229.4" r="2.5"/><circle cx="591.1" cy="229.7" r="2.5"/><circle cx="592.7" cy="230.0" r="2.5"/><circle cx="594.3" cy="230.3" r="2.5"/><circle cx="595.9" cy="230.6" r="2.5"/><circle cx="597.6" cy="230.9" r="2.5"/><circle cx="599.2" cy="231.2" r="2.5"/><circle cx="600.8" cy="231.5" r="2.5"/><circle cx="602.4" cy="231.7" r="2.5"/><circle cx="604.0" cy="232.0" r="2.5"/><circle cx="605.6" cy="232.3" r="2.5"/><circle cx="607.2" cy="232.5" r="2.5"/><circle cx="608.8" cy="232.8" r="2.5"/><circle cx="610.4" cy="233.1" r="2.5"/><circle cx="612.0" cy="233.3" r="2.5"/><circle cx="613.7" cy="233.5" r="2.5"/><circle cx="615.3" cy="233.8" r="2.5"/><circle cx="616.9" cy="234.0" r="2.5"/><circle cx="618.5" cy="234.3" r="2.5"/><circle cx="620.1" cy="234.5" r="2.5"/><circle cx="621.7" cy="234.7" r="2.5"/><circle cx="623.3" cy="234.9" r="2.5"/><circle cx="624.9" cy="235.1" r="2.5"/><circle cx="626.5" cy="235.4" r="2.5"/><circle cx="628.1" cy="235.6" r="2.5"/><circle cx="629.7" cy="235.8" r="2.5"/><circle cx="631.4" cy="236.0" r="2.5"/><circle cx="410.0" cy="114.7" r="3"/><circle cx="411.9" cy="126.7" r="3"/><circle cx="410.8" cy="157.9" r="3"/><circle cx="408.4" cy="170.8" r="3"/></g>
<text x="456.5" y="280.6" font-family="Liberation Sans, sans-serif" font-size="14.5" textLength="130.8" lengthAdjust="spacingAndGlyphs">Wavelength λ (μm)</text>
<text transform="translate(384.8 179) rotate(-90)" x="0" y="0" font-family="Liberation Sans, sans-serif" font-size="15" textLength="73.2" lengthAdjust="spacingAndGlyphs">Emissivity</text>
<rect x="489.5" y="49.7" width="129" height="72.5" fill="#fff" stroke="#a8a8a8" stroke-width="1.2"/>
<path d="M493 62.4H510.3" stroke="#0000ff" stroke-width="4"/><ellipse cx="501.5" cy="62.4" rx="3.6" ry="3.4" fill="#0000ff"/>
<path d="M497 86.1H504.4M508 86.1H510.7" stroke="#ff0000" stroke-width="3"/>
<path d="M493 109.2H510.3" stroke="#000" stroke-width="4.6"/>
<text x="512.6" y="70.5" font-family="Liberation Sans, sans-serif" font-size="19.5" textLength="69.3" lengthAdjust="spacingAndGlyphs">Forward</text>
<text x="512.6" y="93.5" font-family="Liberation Sans, sans-serif" font-size="19.5" textLength="70.5" lengthAdjust="spacingAndGlyphs">Reverse</text>
<text x="512.8" y="117.2" font-family="Liberation Sans, sans-serif" font-size="19.5" textLength="102.4" lengthAdjust="spacingAndGlyphs">Blackbodies</text>
<text x="262" y="379" font-family="Liberation Sans, sans-serif" font-size="25" textLength="137" lengthAdjust="spacingAndGlyphs">Wavelength</text>
<text x="406.2" y="379" font-family="Liberation Serif, serif" font-size="27">λ</text>
<text x="428.5" y="379.5" font-family="Liberation Sans, sans-serif" font-size="27" textLength="51.5" lengthAdjust="spacingAndGlyphs">(μm)</text>
<g transform="translate(27.1 338.4) rotate(-90)">
<text x="0" y="0" font-family="Liberation Sans, sans-serif" stroke="#000" stroke-width="0.75" font-size="21" textLength="81" lengthAdjust="spacingAndGlyphs">Spectral</text>
<text x="92.7" y="0" font-family="Liberation Sans, sans-serif" stroke="#000" stroke-width="0.75" font-size="21" textLength="39.6" lengthAdjust="spacingAndGlyphs">Heat</text>
<text x="141.4" y="0" font-family="Liberation Sans, sans-serif" stroke="#000" stroke-width="0.75" font-size="21" textLength="39" lengthAdjust="spacingAndGlyphs">Flux</text>
<text x="186.4" y="-14.3" font-family="Liberation Serif, serif" font-style="italic" stroke="#000" stroke-width="0.5" font-size="19" textLength="20" lengthAdjust="spacingAndGlyphs">dq</text>
<path d="M186 -7.1H208.4" stroke="#000" stroke-width="1.3"/>
<text x="186.4" y="13.3" font-family="Liberation Serif, serif" font-style="italic" stroke="#000" stroke-width="0.5" font-size="19" textLength="20" lengthAdjust="spacingAndGlyphs">dλ</text>
<text x="217.2" y="0.5" font-family="Liberation Sans, sans-serif" stroke="#000" stroke-width="0.9" font-size="22.0" text-anchor="middle">(</text>
<text x="229.0" y="0.0" font-family="Liberation Sans, sans-serif" stroke="#000" stroke-width="0.9" font-size="20.0" text-anchor="middle">x</text>
<text x="240.3" y="0.0" font-family="Liberation Sans, sans-serif" stroke="#000" stroke-width="0.9" font-size="20.0" text-anchor="middle">1</text>
<text x="250.7" y="0.0" font-family="Liberation Sans, sans-serif" stroke="#000" stroke-width="0.9" font-size="20.0" text-anchor="middle">0</text>
<text x="260.5" y="-8.8" font-family="Liberation Sans, sans-serif" stroke="#000" stroke-width="0.9" font-size="12.5" text-anchor="middle">7</text>
<text x="275.5" y="0.0" font-family="Liberation Sans, sans-serif" stroke="#000" stroke-width="0.9" font-size="20.0" text-anchor="middle">W</text>
<text x="307.0" y="0.0" font-family="Liberation Sans, sans-serif" stroke="#000" stroke-width="0.9" font-size="20.0" text-anchor="middle">m</text>
<text x="321.6" y="-7.6" font-family="Liberation Sans, sans-serif" stroke="#000" stroke-width="0.9" font-size="12.5" text-anchor="middle">3</text>
<text x="328.4" y="0.5" font-family="Liberation Sans, sans-serif" stroke="#000" stroke-width="0.9" font-size="22.0" text-anchor="middle">)</text>
<path d="M288.6 3.4L295.5 -15.1" stroke="#000" stroke-width="2.5" stroke-linecap="butt"/>
</g>
</svg>
</body></html>
